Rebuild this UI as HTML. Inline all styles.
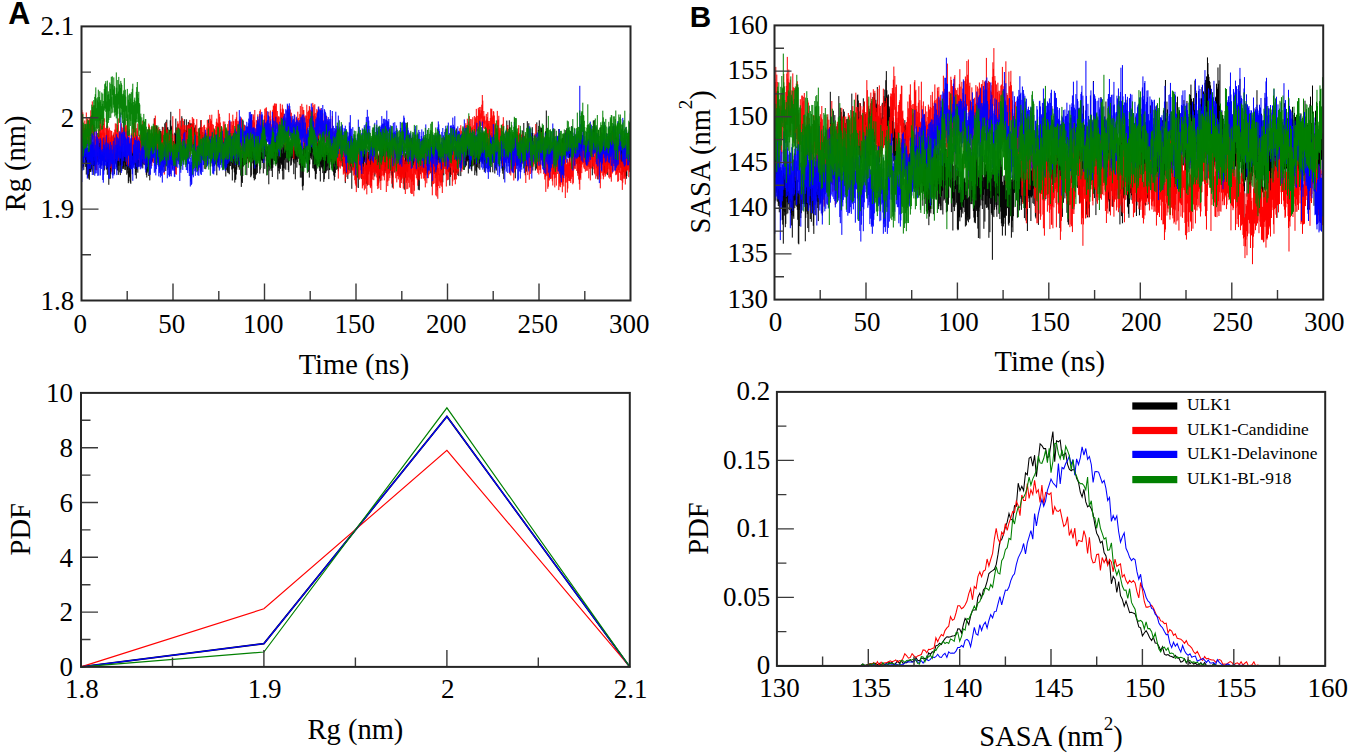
<!DOCTYPE html>
<html><head><meta charset="utf-8"><style>
html,body{margin:0;padding:0;background:#fff;width:1350px;height:754px;overflow:hidden;font-family:"Liberation Serif",serif;}
svg{display:block;}
</style></head><body>
<svg width="1350" height="754" viewBox="0 0 1350 754">
<rect width="1350" height="754" fill="#fff"/>
<g font-family="Liberation Serif" font-size="27" fill="#000">
<svg x="0" y="0" width="1350" height="754" overflow="hidden"><clipPath id="cTA"><rect x="81.5" y="26.4" width="549" height="274.1"/></clipPath><g clip-path="url(#cTA)">
<path transform="translate(81.8,0) scale(0.50000,0.1)" d="M0 1387v170m1 -175v298m1 -221v102m1 -88v194m1 -151v183m1 -262v138m1 -167v162m1 -165v264m1 -251v180m1 -115v263m1 -210v159m1 -163v140m1 -194v297m1 -242v222m1 -244v275m1 -321v333m1 -213v113m1 -205v226m1 -325v324m1 -384v361m1 -256v180m1 -169v266m1 -298v163m1 -131v208m1 -108v199m1 -330v239m1 -251v257m1 -131v166m1 -234v158m1 -152v86m1 -142v197m1 -153v118m1 -247v293m1 -214v214m1 -206v95m1 -84v162m1 -249v189m1 -75v221m1 -348v275m1 -146v199m1 -196v189m1 -261v191m1 -204v233m1 -193v245m1 -222v213m1 -174v227m1 -280v123m1 -152v225m1 -116v96m1 -166v262m1 -438v433m1 -139v196m1 -405v338m1 -151v141m1 -298v475m1 -421v187m1 -160v147m1 -152v338m1 -349v303m1 -385v262m1 -190v280m1 -244v177m1 -208v117m1 -205v227m1 -111v170m1 -240v352m1 -322v210m1 -134v140m1 -207v176m1 -143v212m1 -144v138m1 -299v330m1 -231v238m1 -192v234m1 -271v180m1 -230v191m1 -284v389m1 -343v370m1 -355v257m1 -226v225m1 -216v275m1 -258v191m1 -183v228m1 -167v167m1 -153v135m1 -159v114m1 -168v239m1 -240v244m1 -233v193m1 -150v152m1 -113v197m1 -200v152m1 -142v176m1 -92v191m1 -124v104m1 -274v236m1 -234v222m1 -259v323m1 -258v270m1 -440v250m1 -234v271m1 -305v251m1 -242v250m1 -225v238m1 -282v254m1 -139v163m1 -141v105m1 -249v389m1 -395v366m1 -244v307m1 -349v264m1 -214v181m1 -128v187m1 -322v262m1 -262v222m1 -216v145m1 -209v241m1 -204v279m1 -204v174m1 -258v247m1 -170v215m1 -260v219m1 -262v320m1 -245v206m1 -211v141m1 -172v128m1 -184v302m1 -225v231m1 -233v225m1 -136v238m1 -366v392m1 -284v235m1 -245v226m1 -318v314m1 -185v242m1 -253v144m1 -283v436m1 -331v117m1 -143v188m1 -339v201m1 -155v165m1 -128v239m1 -278v268m1 -324v274m1 -269v154m1 -261v244m1 -143v221m1 -220v208m1 -189v321m1 -371v331m1 -320v254m1 -89v164m1 -255v245m1 -214v252m1 -183v170m1 -276v166m1 -207v249m1 -227v220m1 -223v186m1 -161v132m1 -119v247m1 -327v358m1 -272v210m1 -197v230m1 -203v273m1 -267v136m1 -303v286m1 -140v83m1 -244v492m1 -416v363m1 -460v330m1 -246v231m1 -241v242m1 -154v177m1 -184v107m1 -159v276m1 -222v170m1 -321v300m1 -385v348m1 -193v202m1 -217v219m1 -42v149m1 -248v247m1 -173v115m1 -54v116m1 -169v136m1 -227v244m1 -232v191m1 -344v511m1 -421v235m1 -188v102m1 -112v217m1 -288v165m1 -96v216m1 -172v251m1 -309v225m1 -245v130m1 -118v380m1 -294v97m1 -134v223m1 -399v324m1 -142v244m1 -261v176m1 -210v139m1 -114v166m1 -292v379m1 -274v174m1 -163v183m1 -191v186m1 -293v178m1 -62v141m1 -85v209m1 -242v147m1 -260v323m1 -307v245m1 -195v217m1 -273v358m1 -339v261m1 -275v258m1 -257v271m1 -250v160m1 -174v225m1 -230v244m1 -263v243m1 -231v400m1 -355v291m1 -278v305m1 -339v313m1 -199v200m1 -253v170m1 -129v252m1 -192v159m1 -215v208m1 -123v111m1 -191v189m1 -218v222m1 -283v306m1 -300v269m1 -348v310m1 -234v429m1 -325v144m1 -176v204m1 -234v274m1 -223v213m1 -205v211m1 -259v288m1 -234v208m1 -221v157m1 -20v183m1 -250v133m1 -132v59m1 -161v174m1 -174v196m1 -343v291m1 -152v184m1 -179v107m1 -27v148m1 -160v124m1 -122v97m1 -161v260m1 -161v144m1 -144v223m1 -208v88m1 -177v246m1 -284v320m1 -270v280m1 -302v258m1 -200v228m1 -233v184m1 -117v79m1 -119v314m1 -289v160m1 -189v192m1 -167v192m1 -415v371m1 -306v206m1 -126v181m1 -226v220m1 -266v302m1 -166v117m1 -261v193m1 -117v240m1 -239v257m1 -279v283m1 -256v204m1 -119v210m1 -149v155m1 -344v376m1 -218v285m1 -226v131m1 -192v221m1 -258v273m1 -231v245m1 -288v292m1 -368v282m1 -300v397m1 -274v193m1 -181v179m1 -268v206m1 -120v156m1 -192v253m1 -233v343m1 -370v254m1 -338v332m1 -248v103m1 0v186m1 -189v291m1 -154v127m1 -213v209m1 -215v165m1 -234v186m1 -193v126m1 -123v133m1 -124v157m1 -354v232m1 -203v350m1 -242v117m1 -100v160m1 -162v285m1 -246v359m1 -338v286m1 -413v426m1 -276v206m1 -355v260m1 -269v172m1 -178v195m1 -334v396m1 -233v112m1 -221v334m1 -245v243m1 -229v344m1 -391v227m1 -182v175m1 -216v247m1 -282v279m1 -234v246m1 -218v130m1 -85v135m1 -209v398m1 -318v302m1 -405v250m1 -189v177m1 -72v117m1 -89v199m1 -333v370m1 -227v250m1 -201v135m1 -240v294m1 -229v189m1 -234v225m1 -269v197m1 -245v305m1 -288v171m1 -224v215m1 -185v174m1 -118v119m1 -86v227m1 -418v377m1 -228v213m1 -271v197m1 -267v256m1 -65v100m1 -155v133m1 -339v465m1 -369v239m1 -201v97m1 -181v370m1 -225v103m1 -202v190m1 -165v218m1 -115v261m1 -286v203m1 -213v258m1 -166v113m1 -196v376m1 -423v245m1 -142v184m1 -385v326m1 -241v225m1 -86v162m1 -244v218m1 -235v323m1 -445v353m1 -374v254m1 -184v227m1 -173v181m1 -278v212m1 -135v236m1 -280v269m1 -245v248m1 -170v179m1 -213v196m1 -197v363m1 -366v252m1 -95v126m1 -240v265m1 -171v112m1 -171v183m1 -335v276m1 -135v143m1 -184v195m1 -115v177m1 -243v327m1 -362v250m1 -198v309m1 -343v147m1 -230v318m1 -213v109m1 -166v282m1 -368v192m1 -154v257m1 -241v162m1 -183v263m1 -323v397m1 -245v267m1 -305v152m1 -146v156m1 -165v158m1 -142v227m1 -187v178m1 -281v239m1 -230v205m1 -266v223m1 -76v163m1 -152v269m1 -407v257m1 -94v138m1 -149v306m1 -328v138m1 -189v180m1 -326v409m1 -241v185m1 -271v168m1 -239v309m1 -212v185m1 -112v204m1 -212v130m1 -96v301m1 -339v244m1 -189v285m1 -348v220m1 -111v327m1 -314v352m1 -446v400m1 -375v113m1 -221v303m1 -327v228m1 -326v341m1 -184v208m1 -322v278m1 -142v179m1 -122v190m1 -406v445m1 -198v200m1 -169v152m1 -250v324m1 -313v181m1 -210v129m1 -194v211m1 -228v243m1 -252v223m1 -152v111m1 -52v210m1 -255v212m1 -341v386m1 -199v209m1 -214v231m1 -192v268m1 -318v324m1 -213v158m1 -216v109m1 -252v275m1 -388v333m1 -292v334m1 -243v156m1 -143v264m1 -239v273m1 -307v412m1 -346v175m1 -137v162m1 -197v204m1 -245v256m1 -220v264m1 -263v196m1 -179v334m1 -285v258m1 -350v288m1 -186v188m1 -282v279m1 -309v294m1 -204v162m1 -199v232m1 -205v158m1 -179v148m1 -175v339m1 -288v198m1 -264v262m1 -219v91m1 -134v170m1 -232v271m1 -193v228m1 -216v234m1 -319v267m1 -137v210m1 -292v327m1 -89v139m1 -220v185m1 -248v207m1 -215v135m1 -170v219m1 -94v74m1 -98v112m1 -227v164m1 -83v167m1 -210v176m1 -285v215m1 -316v226m1 -165v213m1 -170v228m1 -284v284m1 -319v247m1 -217v331m1 -294v208m1 -98v131m1 -57v156m1 -176v124m1 -259v306m1 -139v262m1 -194v134m1 -156v119m1 -165v131m1 -129v144m1 -264v338m1 -339v140m1 -116v165m1 -311v232m1 -235v302m1 -206v244m1 -316v379m1 -198v127m1 -72v303m1 -453v260m1 -254v228m1 -283v277m1 -214v192m1 -224v233m1 -50v143m1 -223v229m1 -313v357m1 -301v124m1 -42v300m1 -284v56m1 -103v233m1 -269v373m1 -450v231m1 -139v125m1 -234v237m1 -228v126m1 -161v195m1 -172v381m1 -274v219m1 -228v199m1 -197v138m1 -153v248m1 -262v232m1 -211v120m1 -135v121m1 -209v288m1 -165v187m1 -207v336m1 -263v231m1 -248v298m1 -393v268m1 -211v222m1 -176v153m1 -178v143m1 -275v234m1 -172v219m1 -233v300m1 -217v280m1 -379v194m1 -171v198m1 -177v244m1 -337v300m1 -236v216m1 -150v157m1 -221v307m1 -266v211m1 -235v241m1 -243v255m1 -231v203m1 -158v83m1 -88v215m1 -198v255m1 -120v137m1 -426v385m1 -211v146m1 -210v299m1 -318v198m1 -248v256m1 -205v89m1 -147v186m1 -198v227m1 -258v213m1 -158v203m1 -276v377m1 -229v186m1 -204v169m1 -356v399m1 -335v248m1 -199v195m1 -221v267m1 -247v267m1 -175v119m1 -196v195m1 -205v249m1 -122v178m1 -231v163m1 -192v234m1 -165v213m1 -156v135m1 -223v365m1 -375v275m1 -319v236m1 -219v95m1 -93v131m1 -155v273m1 -270v194m1 -139v129m1 -108v155m1 -340v320m1 -264v228m1 -159v151m1 -204v303m1 -230v251m1 -182v135m1 -145v135m1 -174v258m1 -142v107m1 -222v286m1 -291v243m1 -165v48m1 -87v198m1 -164v256m1 -369v237m1 -78v271m1 -298v164m1 -231v240m1 -193v203m1 -270v201m1 -184v155m1 -461v501m1 -240v229m1 -265v224m1 -223v151m1 -253v227m1 -217v283m1 -165v170m1 -290v206m1 -179v230m1 -138v106m1 -209v257m1 -120v150m1 -166v167m1 -236v207m1 -261v240m1 -184v202m1 -134v138m1 -193v218m1 -207v196m1 -119v107m1 -54v130m1 -163v145m1 -153v360m1 -342v304m1 -188v231m1 -420v220m1 -220v257m1 -214v126m1 -152v179m1 -244v280m1 -320v248m1 -220v295m1 -337v230m1 -239v259m1 -219v335m1 -224v114m1 -69v142m1 -201v245m1 -323v189m1 -240v350m1 -202v211m1 -198v122m1 -274v203m1 -141v219m1 -212v143m1 -138v165m1 -269v228m1 -170v314m1 -209v109m1 -86v321m1 -462v289m1 -286v312m1 -220v188m1 -231v219m1 -209v273m1 -359v336m1 -263v249m1 -291v163m1 -29v214m1 -274v233m1 -246v230m1 -302v200m1 -212v161m1 -260v342m1 -252v244m1 -277v178m1 -69v193m1 -175v239m1 -234v226m1 -179v97m1 -136v182m1 -150v305m1 -340v167m1 -204v307m1 -365v220m1 -236v183m1 -262v292m1 -78v164m1 -317v343m1 -213v180m1 -143v173m1 -190v211m1 -216v215m1 -212v222m1 -215v209m1 -52v191m1 -324v236m1 -293v264m1 -292v205m1 -243v253m1 -256v219m1 -173v207m1 -157v224m1 -258v132m1 -140v210m1 -93v213m1 -147v114m1 -306v243m1 -411v447m1 -285v277m1 -217v97m1 -40v188m1 -283v144m1 -97v246m1 -301v180m1 -215v172m1 -35v94m1 -211v316m1 -253v135m1 -243v235m1 -243v178m1 -130v89m1 -83v251m1 -243v152m1 -165v258m1 -399v337m1 -259v295m1 -187v169m1 -202v202m1 -324v274m1 -150v160m1 -166v150m1 -98v234m1 -225v91m1 -44v123m1 -189v126m1 -177v225m1 -171v167m1 -200v235m1 -201v217m1 -238v179m1 -210v220m1 -218v120m1 -127v218m1 -216v206m1 -220v326m1 -316v191m1 -255v335m1 -254v273m1 -260v291m1 -349v265m1 -333v265m1 -196v191m1 -219v303m1 -234v187m1 -225v286m1 -220v125m1 -235v199m1 -51v95m1 -255v269m1 -216v229m1 -265v250m1 -178v163m1 -283v232m1 -214v376m1 -380v276m1 -310v263m1 -209v322m1 -388v342m1 -138v129m1 -211v127m1 -302v330m1 -174v295m1 -244v184m1 -161v163m1 -303v315m1 -154v232m1 -316v152m1 -146v171m1 -255v264m1 -241v249m1 -134v256m1 -382v251m1 -142v179m1 -216v123m1 -35v234m1 -329v186m1 -158v251m1 -220v241m1 -248v198m1 -307v184m1 -198v134m1 -182v268m1 -225v153m1 -56v48m1 -46v169m1 -243v235m1 -144v82m1 -55v164m1 -224v218m1 -193v269m1 -246v276m1 -290v215m1 -126v256m1 -255v165m1 -134v118m1 -235v163m1 -236v164m1 -123v123m1 -336v388m1 -213v205m1 -238v122m1 -102v263m1 -317v235m1 -346v346m1 -276v359m1 -155v88m1 -151v155m1 -93v134m1 -194v235m1 -311v382m1 -298v139m1 -88v173m1 -231v245m1 -232v213m1 -247v290m1 -219v316m1 -474v288m1 -116v174m1 -258v196m1 -78v128m1 -305v309m1 -225v189m1 -262v223m1 -170v147m1 -217v249m1 -39v126m1 -319v166m1 -108v219m1 -222v230m1 -330v304m1 -209v180m1 -216v204m1 -337v230m1 -93v180m1 -147v157m1 -159v355m1 -263v227m1 -297v296m1 -324v164m1 -344v452m1 -314v151m1 -198v264m1 -335v351m1 -294v274m1 -61v178m1 -309v195m1 -206v317m1 -228v231m1 -219v207m1 -396v217m1 -159v376m1 -255v152m1 -191v197m1 -257v258m1 -252v144m1 -112v315m1 -298v234m1 -194v235m1 -458v464m1 -294v179m1 -174v244m1 -342v209m1 -251v309m1 -365v374m1 -226v312m1 -389v275m1 -241v124m1 -151v243m1 -248v290m1 -144v226m1 -247v208m1 -126v159m1 -250v206m1 -188v193m1 -176v236m1 -340v302m1 -315v452m1 -657v511m1 -181v122m1 -271v366m1 -257v272m1 -143v145m1 -272v302m1 -296v268m1 -218v168m1 -265v292m1 -86v150m1 -171v80m1 -178v152m1 -125v156m1 -205v169m1 -305v165m1 -57v305m1 -314v119m1 -212v288m1 -145v230m1 -223v160m1 -159v176m1 -209v181m1 -153v214m1 -213v254m1 -294v152m1 -260v298m1 -225v351m1 -385v278m1 -180v194m1 -193v184m1 -157v151m1 -208v302m1 -322v133m1 -131v270m1 -307v231m1 -187v232m1 -204v158m1 -240v231m1 -175v144m1 -232v205m1 -183v226m1 -267v283m1 -238v171m1 -138v189m1 -216v205m1 -181v183m1 -150v270m1 -209v168m1 -307v253m1 -251v189m1 -120v270m1 -393v264m1 -171v179m1 -200v202m1 -166v179m1 -181v316m1 -306v114m1 -68v225m1 -232v162m1 -172v215m1 -250v232m1 -90v125m1 -148v144m1 -201v299m1 -368v288m1 -233v320m1 -239v302m1 -389v298m1 -369v427m1 -420v301m1 -275v116m1 -264v357m1 -134v74m1 -171v250m1 -344v369m1 -318v230m1 -135v150m1 -112v137m1 -130v196m1 -239v191m1 -199v110m1 -125v265m1 -227v215m1 -241v270m1 -274v215m1 -89v111m1 -243v143m1 -181v232m1 -195v163m1 -130v173m1 -192v165m1 -160v125m1 -80v305m1 -298v70m1 -320v262m1 -168v233m1 -329v323m1 -275v199m1 -96v155m1 -180v230m1 -227v271m1 -196v169m1 -227v252m1 -212v405m1 -495v309m1 -164v197m1 -221v215m1 -221v160m1 -302v309m1 -145v183m1 -166v200m1 -329v255m1 -233v296m1 -226v182m1 -142v91m1 -72v227m1 -275v296m1 -281v288m1 -261v124m1 -175v229m1 -208v176m1 -285v293m1 -203v331m1 -344v283m1 -324v160m1 -147v202m1 -248v315m1 -384v300m1 -234v269m1 -210v257m1 -286v114m1 -167v186m1 -69v279m1 -433v361m1 -307v162m1 -230v182m1 -90v244m1 -237v185m1 -296v370m1 -295v260m1 -212v275m1 -175v134m1 -218v130m1 -83v184m1 -185v102m1 -90v259m1 -271v210m1 -177v182m1 -284v252m1 -168v233m1 -279v283m1 -202v164m1 -123v223m1 -315v196m1 -120v122m1 -247v344m1 -360v331m1 -356v272m1 -232v388m1 -282v139m1 -93v258m1 -288v260m1 -382v246m1 -235v229m1 -258v233m1 -278v170m1 -263v245m1 -128v217m1 -273v253" stroke="#000000" stroke-width="1.000" fill="none" vector-effect="non-scaling-stroke"/>
<path transform="translate(81.8,0) scale(0.50000,0.1)" d="M0 1099v257m1 -188v204m1 -249v320m1 -195v116m1 -87v217m1 -215v205m1 -279v217m1 -139v255m1 -274v135m1 -274v117m1 0v207m1 -194v207m1 -292v207m1 -170v177m1 -179v232m1 -260v242m1 -218v290m1 -288v156m1 -256v217m1 -164v271m1 -240v204m1 -377v383m1 -298v271m1 -128v111m1 -43v186m1 -245v228m1 -209v224m1 -101v170m1 -200v49m1 -106v397m1 -339v338m1 -321v143m1 -171v170m1 -230v300m1 -241v120m1 -220v156m1 -229v251m1 -248v233m1 -268v294m1 -182v285m1 -218v186m1 -276v309m1 -345v154m1 -97v254m1 -273v321m1 -376v349m1 -206v194m1 -242v320m1 -226v212m1 -231v111m1 -178v326m1 -391v250m1 -209v328m1 -283v65m1 -79v301m1 -317v188m1 -65v217m1 -314v219m1 -148v306m1 -372v152m1 -150v414m1 -369v186m1 -171v202m1 -144v170m1 -274v194m1 -151v271m1 -342v187m1 -249v307m1 -244v233m1 -294v271m1 -173v109m1 -161v198m1 -230v221m1 -287v327m1 -104v201m1 -271v171m1 -199v210m1 -186v172m1 -185v174m1 -261v202m1 -167v199m1 -168v217m1 -235v300m1 -311v182m1 -236v197m1 -163v161m1 -225v357m1 -296v222m1 -194v231m1 -252v313m1 -261v342m1 -463v259m1 -180v264m1 -218v348m1 -272v170m1 -262v242m1 -121v135m1 -106v120m1 -137v182m1 -275v274m1 -260v175m1 -142v133m1 -291v311m1 -275v206m1 -122v212m1 -327v393m1 -249v137m1 -318v327m1 -231v337m1 -275v165m1 -233v258m1 -233v231m1 -302v313m1 -175v228m1 -180v103m1 -148v167m1 -76v196m1 -328v227m1 -85v109m1 -313v331m1 -360v235m1 -77v92m1 -286v385m1 -317v261m1 -120v210m1 -351v262m1 -176v274m1 -260v244m1 -326v304m1 -242v203m1 -212v215m1 -244v94m1 -117v155m1 -151v176m1 -239v337m1 -320v221m1 -86v140m1 -98v195m1 -291v192m1 -255v240m1 -133v282m1 -299v137m1 -87v177m1 -322v364m1 -364v208m1 -285v286m1 -165v206m1 -360v251m1 -153v190m1 -63v150m1 -168v182m1 -260v260m1 -260v285m1 -244v162m1 -217v239m1 -119v267m1 -235v191m1 -151v154m1 -171v200m1 -234v88m1 -187v227m1 -142v236m1 -336v204m1 -231v304m1 -165v236m1 -226v326m1 -397v231m1 -169v165m1 -189v194m1 -355v266m1 -84v174m1 -287v277m1 -143v176m1 -222v233m1 -293v237m1 -213v296m1 -221v338m1 -319v167m1 -266v300m1 -300v313m1 -294v280m1 -247v294m1 -526v361m1 -100v102m1 -10v135m1 -298v314m1 -191v260m1 -272v279m1 -188v90m1 -205v308m1 -471v360m1 -291v257m1 -389v295m1 -273v154m1 -101v246m1 -251v233m1 -427v387m1 -270v210m1 -160v181m1 -166v263m1 -174v108m1 -285v256m1 -191v205m1 -243v391m1 -228v196m1 -320v239m1 -155v134m1 -159v279m1 -334v241m1 -44v108m1 -236v189m1 -260v287m1 -287v176m1 -168v196m1 -218v205m1 -185v253m1 -311v294m1 -226v281m1 -298v243m1 -245v171m1 -182v265m1 -331v250m1 -151v211m1 -295v207m1 -204v252m1 -89v72m1 -74v121m1 -184v339m1 -379v459m1 -366v128m1 -277v367m1 -240v327m1 -276v248m1 -333v309m1 -201v312m1 -345v140m1 -139v183m1 -253v148m1 -171v278m1 -345v290m1 -107v111m1 -223v294m1 -172v148m1 -195v112m1 -202v258m1 -266v438m1 -416v204m1 -112v167m1 -205v122m1 -89v141m1 -222v280m1 -356v402m1 -312v208m1 -173v216m1 -311v251m1 -216v171m1 -287v314m1 -275v359m1 -334v223m1 -231v278m1 -336v249m1 -155v223m1 -155v136m1 -198v293m1 -261v314m1 -267v280m1 -305v263m1 -262v266m1 -308v135m1 -177v396m1 -428v282m1 -237v182m1 -188v301m1 -427v371m1 -224v197m1 -306v286m1 -254v339m1 -283v241m1 -128v244m1 -320v282m1 -255v220m1 -203v189m1 -157v225m1 -349v154m1 -75v124m1 -171v200m1 -231v256m1 -193v311m1 -226v135m1 -187v248m1 -269v109m1 -81v272m1 -349v280m1 -159v104m1 -255v183m1 -262v254m1 -143v288m1 -316v269m1 -194v191m1 -266v231m1 -135v191m1 -250v206m1 -311v377m1 -309v259m1 -265v260m1 -159v203m1 -214v218m1 -326v372m1 -359v249m1 -280v339m1 -395v417m1 -238v221m1 -309v276m1 -247v213m1 -236v159m1 -167v323m1 -336v290m1 -191v192m1 -293v195m1 -211v418m1 -405v334m1 -107v149m1 -202v218m1 -370v249m1 -177v171m1 -207v270m1 -205v278m1 -232v245m1 -251v196m1 -161v204m1 -264v219m1 -227v160m1 -218v282m1 -210v276m1 -287v312m1 -308v171m1 -247v163m1 -238v212m1 -163v124m1 -113v108m1 -200v209m1 -146v186m1 -189v205m1 -263v258m1 -236v239m1 -182v80m1 -203v323m1 -122v127m1 -147v147m1 -227v271m1 -230v155m1 -189v159m1 -224v233m1 -142v182m1 -227v223m1 -254v345m1 -392v251m1 -268v315m1 -172v263m1 -232v95m1 -202v168m1 -93v79m1 -92v92m1 -87v166m1 -195v219m1 -262v286m1 -355v359m1 -221v120m1 -263v292m1 -301v263m1 -225v202m1 -92v67m1 -59v186m1 -157v113m1 -252v300m1 -181v178m1 -250v250m1 -311v246m1 -159v347m1 -260v122m1 -158v178m1 -265v244m1 -302v284m1 -326v220m1 -215v268m1 -287v222m1 -232v282m1 -252v266m1 -290v192m1 -193v206m1 -76v122m1 -179v336m1 -267v101m1 -113v213m1 -219v338m1 -255v226m1 -298v303m1 -438v306m1 -255v355m1 -320v147m1 -140v102m1 -186v243m1 -206v265m1 -255v279m1 -83v144m1 -297v227m1 0v89m1 -246v286m1 -318v218m1 -189v235m1 -260v212m1 -295v226m1 -132v121m1 -250v158m1 -89v204m1 -113v117m1 -215v271m1 -298v200m1 -60v96m1 -204v245m1 -197v128m1 -60v111m1 -82v146m1 -177v172m1 -153v330m1 -363v244m1 -322v284m1 -191v215m1 -235v167m1 -210v287m1 -221v262m1 -318v284m1 -356v266m1 -204v223m1 -122v143m1 -212v154m1 -224v276m1 -358v320m1 -232v293m1 -261v184m1 -325v323m1 -183v206m1 -315v327m1 -295v383m1 -383v278m1 -98v153m1 -272v185m1 -118v233m1 -308v182m1 -177v224m1 -336v340m1 -197v157m1 -227v155m1 -170v164m1 -158v117m1 -168v232m1 -223v195m1 -167v142m1 -111v298m1 -317v155m1 -140v169m1 -194v190m1 -260v307m1 -181v157m1 -259v231m1 -148v236m1 -330v289m1 -168v208m1 -242v205m1 -137v218m1 -324v370m1 -356v327m1 -269v185m1 -246v265m1 -302v322m1 -210v144m1 -93v127m1 -270v262m1 -120v213m1 -282v193m1 -168v280m1 -248v135m1 -217v265m1 -103v195m1 -288v251m1 -206v278m1 -285v179m1 -193v197m1 -221v206m1 -165v190m1 -270v247m1 -166v217m1 -252v183m1 -163v298m1 -232v147m1 -225v235m1 -130v129m1 -234v253m1 -174v249m1 -152v187m1 -227v237m1 -431v473m1 -356v322m1 -121v139m1 -299v232m1 -239v279m1 -211v230m1 -238v196m1 -261v279m1 -299v314m1 -249v289m1 -230v217m1 -311v347m1 -235v359m1 -442v270m1 -225v178m1 -165v267m1 -210v227m1 -283v194m1 -172v234m1 -216v182m1 -241v205m1 -212v186m1 -90v273m1 -324v305m1 -206v168m1 -173v221m1 -174v252m1 -312v268m1 -350v290m1 -139v87m1 -135v220m1 -230v238m1 -279v219m1 -280v328m1 -164v134m1 -245v265m1 -306v166m1 -216v231m1 -114v164m1 -124v134m1 -97v139m1 -125v112m1 -261v322m1 -298v241m1 -185v202m1 -129v216m1 -277v312m1 -244v263m1 -314v379m1 -337v130m1 -249v292m1 -251v190m1 -207v173m1 -177v301m1 -258v268m1 -255v88m1 -61v134m1 -140v216m1 -343v233m1 -209v328m1 -154v251m1 -243v222m1 -109v97m1 -185v126m1 -121v232m1 -268v203m1 -241v290m1 -443v351m1 -147v164m1 -156v288m1 -422v310m1 -221v240m1 -252v249m1 -257v153m1 -168v137m1 -178v318m1 -206v227m1 -204v212m1 -278v258m1 -314v382m1 -365v231m1 -230v187m1 -309v276m1 -200v282m1 -233v162m1 -253v227m1 -232v273m1 -237v201m1 -186v210m1 -354v395m1 -298v383m1 -203v234m1 -268v223m1 -197v233m1 -349v192m1 -166v200m1 -146v185m1 -232v334m1 -368v229m1 -99v144m1 -233v138m1 -121v166m1 -193v186m1 -185v201m1 -280v319m1 -347v237m1 -248v95m1 -55v245m1 -234v423m1 -392v209m1 -179v258m1 -203v248m1 -253v135m1 -194v258m1 -241v164m1 -145v196m1 -265v138m1 -232v201m1 -127v216m1 -253v378m1 -376v209m1 -237v282m1 -290v462m1 -391v231m1 -138v44m1 -146v219m1 -289v256m1 -291v401m1 -254v111m1 -139v323m1 -319v256m1 -162v140m1 -136v191m1 -192v156m1 -182v198m1 -148v248m1 -381v387m1 -262v190m1 -190v212m1 -284v228m1 -136v148m1 -210v191m1 -198v316m1 -370v314m1 -187v133m1 -176v177m1 -133v297m1 -326v109m1 -83v188m1 -288v353m1 -295v208m1 -305v388m1 -314v199m1 -312v367m1 -377v423m1 -359v261m1 -321v340m1 -166v299m1 -307v318m1 -284v164m1 -301v420m1 -201v73m1 -163v203m1 -201v313m1 -454v399m1 -418v239m1 -229v246m1 -197v195m1 -271v310m1 -198v128m1 -79v165m1 -224v282m1 -349v286m1 -278v183m1 -158v263m1 -275v229m1 -232v146m1 -130v201m1 -285v329m1 -389v264m1 -150v216m1 -265v223m1 -182v283m1 -241v186m1 -192v241m1 -225v250m1 -274v342m1 -367v158m1 -130v137m1 -138v299m1 -331v243m1 -129v104m1 -136v198m1 -225v197m1 -298v173m1 -83v196m1 -181v113m1 -151v193m1 -256v251m1 -76v170m1 -142v290m1 -369v257m1 -214v214m1 -319v177m1 -178v175m1 -213v351m1 -282v230m1 -192v364m1 -252v167m1 -265v361m1 -335v273m1 -301v386m1 -308v180m1 -232v122m1 -130v194m1 -78v146m1 -259v204m1 -295v324m1 -145v113m1 -128v171m1 -359v422m1 -488v193m1 -259v357m1 -208v120m1 -229v273m1 -262v211m1 -101v153m1 -149v201m1 -241v364m1 -488v377m1 -332v381m1 -411v314m1 -172v264m1 -325v216m1 -135v87m1 -153v237m1 -222v174m1 -273v236m1 -171v281m1 -223v139m1 -142v335m1 -247v202m1 -419v304m1 -226v223m1 -149v252m1 -320v263m1 -242v343m1 -284v132m1 -82v185m1 -177v91m1 -127v123m1 -131v166m1 -339v316m1 -330v278m1 -254v196m1 -325v273m1 -191v160m1 -271v242m1 -187v228m1 -122v304m1 -368v236m1 -94v201m1 -352v171m1 -245v277m1 -186v251m1 -274v276m1 -353v232m1 -257v280m1 -260v207m1 -173v154m1 -253v150m1 -82v116m1 -92v191m1 -253v125m1 -181v246m1 -167v244m1 -294v177m1 -100v268m1 -255v183m1 -271v270m1 -190v226m1 -326v475m1 -279v118m1 -232v154m1 -248v228m1 -166v187m1 -237v226m1 -211v158m1 -256v217m1 -146v157m1 -87v81m1 -153v120m1 -197v229m1 -213v272m1 -299v265m1 -234v270m1 -237v122m1 -187v126m1 -91v80m1 -137v213m1 -310v306m1 -250v343m1 -186v116m1 -169v121m1 -64v123m1 -133v86m1 -38v82m1 -22v170m1 -296v304m1 -250v195m1 -218v177m1 -225v299m1 -212v161m1 -138v255m1 -277v269m1 -220v168m1 -248v217m1 -311v278m1 -271v231m1 -235v346m1 -260v198m1 -217v234m1 -278v205m1 -199v229m1 -191v238m1 -139v152m1 -174v362m1 -316v143m1 -133v111m1 -97v161m1 -354v329m1 -232v213m1 -223v252m1 -290v331m1 -193v185m1 -203v153m1 -149v241m1 -218v130m1 -54v177m1 -307v179m1 -64v114m1 -242v421m1 -487v412m1 -257v223m1 -178v240m1 -275v248m1 -133v103m1 -108v164m1 -245v125m1 -88v204m1 -327v172m1 -202v309m1 -176v155m1 -226v191m1 -105v147m1 -61v258m1 -295v173m1 -57v192m1 -170v113m1 -187v69m1 -49v185m1 -192v71m1 -137v260m1 -309v396m1 -279v198m1 -203v104m1 -231v281m1 -251v270m1 -313v243m1 -309v334m1 -170v89m1 -249v310m1 -349v304m1 -333v370m1 -247v247m1 -210v157m1 -218v304m1 -224v178m1 -264v270m1 -225v151m1 -74v95m1 -95v176m1 -319v245m1 -122v116m1 -205v203m1 -136v173m1 -222v301m1 -339v493m1 -413v163m1 -86v157m1 -250v255m1 -266v361m1 -333v261m1 -123v139m1 -272v374m1 -328v202m1 -142v211m1 -341v251m1 -201v230m1 -193v241m1 -238v160m1 -203v103m1 -137v238m1 -223v239m1 -261v82m1 -152v289m1 -212v155m1 -327v369m1 -142v147m1 -86v109m1 -107v169m1 -290v320m1 -133v29m1 -106v226m1 -315v192m1 -136v216m1 -263v259m1 -242v277m1 -411v269m1 -156v164m1 -232v241m1 -275v279m1 -252v286m1 -125v220m1 -223v186m1 -190v281m1 -289v263m1 -161v311m1 -245v80m1 -209v188m1 -173v199m1 -171v300m1 -413v392m1 -288v218m1 -219v227m1 -214v159m1 -177v217m1 -246v247m1 -184v86m1 -107v200m1 -288v315m1 -333v375m1 -275v161m1 -128v134m1 -71v109m1 -192v281m1 -239v111m1 -140v172m1 -150v228m1 -302v138m1 -92v140m1 -265v238m1 -130v125m1 -111v304m1 -408v342m1 -296v325m1 -176v184m1 -179v155m1 -318v295m1 -399v358m1 -189v328m1 -344v268m1 -267v238m1 -206v253m1 -284v175m1 -143v104m1 -155v418m1 -437v285m1 -181v120m1 -129v186m1 -236v338m1 -331v290m1 -261v158m1 -135v162m1 -195v195m1 -233v236m1 -180v176m1 -192v214m1 -333v292m1 -152v128m1 -205v209m1 -92v166m1 -231v217m1 -298v172m1 -106v90m1 -176v150m1 -202v230m1 -309v231m1 -157v184m1 -239v311m1 -175v112m1 0v111m1 -266v190m1 -161v271m1 -155v204m1 -267v324m1 -412v295m1 -188v205m1 -238v114m1 -162v219m1 -254v168m1 -194v131m1 -154v197m1 -179v230m1 -302v317m1 -211v141m1 -126v221m1 -221v137m1 -232v308m1 -339v237m1 -101v203m1 -162v102m1 -210v229m1 -107v224m1 -258v163m1 -172v154m1 -129v262m1 -345v224m1 -266v268m1 -200v109m1 -135v175m1 -208v241m1 -189v184m1 -218v249m1 -133v171m1 -269v282m1 -299v177m1 -143v309m1 -238v133m1 -153v234m1 -296v284m1 -296v240m1 -248v345m1 -252v212m1 -291v289m1 -196v215m1 -68v181m1 -330v239m1 -351v241m1 -128v177m1 -225v140m1 -19v129m1 -274v311m1 -262v240m1 -266v154m1 -87v175m1 -267v285m1 -197v170m1 -200v202m1 -308v296m1 -226v220m1 -268v228m1 -201v171m1 -178v301m1 -319v239m1 -250v342m1 -304v287m1 -278v280m1 -165v210m1 -329v171m1 -155v231m1 -411v301m1 -190v226m1 -226v279m1 -343v288m1 -192v167m1 -120v163m1 -211v286m1 -246v235m1 -263v269m1 -310v289m1 -237v330m1 -295v287m1 -290v119m1 -198v282m1 -261v266m1 -13v84m1 -257v191m1 -119v192m1 -181v124m1 -218v367m1 -242v170m1 -380v256m1 -261v345m1 -247v247m1 -223v199m1 -211v293m1 -437v291m1 -242v259m1 -300v279m1 -231v236m1 -240v246m1 -184v175m1 -242v317m1 -353v302m1 -247v192m1 -242v288" stroke="#ff0000" stroke-width="1.000" fill="none" vector-effect="non-scaling-stroke"/>
<path transform="translate(81.8,0) scale(0.50000,0.1)" d="M0 1389v431m1 -429v207m1 -108v216m1 -342v199m1 -168v251m1 -234v165m1 -152v208m1 -189v131m1 -180v141m1 -146v177m1 -122v155m1 -102v288m1 -387v228m1 -142v260m1 -238v182m1 -251v161m1 -174v265m1 -323v320m1 -221v138m1 -171v214m1 -309v308m1 -319v423m1 -293v156m1 -261v302m1 -229v146m1 -86v122m1 -332v483m1 -311v289m1 -231v148m1 -341v332m1 -251v340m1 -365v195m1 -153v349m1 -295v187m1 -264v368m1 -265v150m1 -170v210m1 -297v372m1 -351v250m1 -156v192m1 -172v130m1 -131v94m1 -121v310m1 -356v383m1 -451v371m1 -301v205m1 -180v184m1 -162v164m1 -233v150m1 -222v334m1 -206v176m1 -181v148m1 -196v248m1 -228v254m1 -263v343m1 -285v295m1 -258v134m1 -248v203m1 -140v184m1 -163v140m1 -195v187m1 -100v217m1 -257v289m1 -374v280m1 -224v289m1 -164v95m1 -307v272m1 -204v143m1 -67v169m1 -349v283m1 -177v302m1 -379v226m1 -153v165m1 -226v169m1 -146v171m1 -261v300m1 -160v121m1 -114v124m1 -463v453m1 -244v395m1 -386v175m1 -197v340m1 -226v176m1 -266v215m1 -357v410m1 -299v254m1 -246v249m1 -205v206m1 -192v237m1 -229v197m1 -138v133m1 -270v356m1 -282v178m1 -187v182m1 -187v174m1 -102v235m1 -245v194m1 -243v309m1 -171v130m1 -301v340m1 -132v133m1 -134v186m1 -145v210m1 -364v224m1 -216v228m1 -299v242m1 -139v206m1 -290v232m1 -231v153m1 -87v204m1 -307v241m1 -195v282m1 -277v181m1 -201v191m1 -94v180m1 -262v122m1 -100v235m1 -119v145m1 -189v156m1 -156v157m1 -186v209m1 -305v164m1 -78v160m1 -252v215m1 -255v309m1 -223v188m1 -120v139m1 -263v333m1 -303v332m1 -328v290m1 -359v127m1 -64v244m1 -315v349m1 -151v179m1 -293v160m1 -85v269m1 -312v190m1 -178v300m1 -264v156m1 -224v270m1 -226v168m1 -230v196m1 -195v163m1 -144v162m1 -205v189m1 -37v202m1 -387v317m1 -260v318m1 -247v284m1 -308v245m1 -194v88m1 -90v134m1 -123v145m1 -180v196m1 -193v290m1 -404v371m1 -319v303m1 -330v389m1 -185v161m1 -197v206m1 -256v202m1 -218v339m1 -260v139m1 -193v215m1 -211v155m1 -192v240m1 -250v178m1 -242v186m1 -170v222m1 -196v218m1 -180v157m1 -94v235m1 -211v127m1 -270v252m1 -126v197m1 -155v171m1 -266v258m1 -328v309m1 -293v196m1 -197v317m1 -249v135m1 -94v149m1 -138v120m1 -190v210m1 -191v132m1 -153v271m1 -195v200m1 -267v140m1 -178v197m1 -136v142m1 -334v275m1 -169v124m1 -108v221m1 -182v121m1 -267v292m1 -251v251m1 -348v516m1 -405v292m1 -183v214m1 -242v75m1 -64v84m1 -104v85m1 -172v309m1 -245v156m1 -276v311m1 -240v190m1 -276v265m1 -135v154m1 -169v218m1 -143v191m1 -140v89m1 -187v242m1 -156v182m1 -201v107m1 -280v285m1 -28v147m1 -135v84m1 -134v290m1 -217v168m1 -197v232m1 -305v293m1 -330v245m1 -309v224m1 -166v270m1 -307v180m1 -191v177m1 -276v357m1 -366v411m1 -227v116m1 -150v185m1 -128v168m1 -266v193m1 -40v144m1 -201v137m1 -234v303m1 -344v254m1 -118v128m1 -185v233m1 -302v318m1 -238v246m1 -308v163m1 -212v191m1 -141v277m1 -344v275m1 -230v227m1 -286v228m1 -170v155m1 -278v307m1 -274v228m1 -161v231m1 -201v246m1 -197v183m1 -233v221m1 -142v76m1 -154v216m1 -265v212m1 -227v219m1 -184v270m1 -278v199m1 -228v273m1 -243v215m1 -285v297m1 -205v323m1 -313v312m1 -307v317m1 -247v151m1 -206v269m1 -364v265m1 -166v176m1 -245v189m1 -221v239m1 -242v231m1 -153v243m1 -185v196m1 -231v109m1 -85v238m1 -190v171m1 -312v202m1 -146v220m1 -206v183m1 -81v129m1 -367v323m1 -166v237m1 -251v101m1 -128v148m1 -81v194m1 -306v221m1 -209v317m1 -314v151m1 -176v309m1 -312v300m1 -238v89m1 -173v295m1 -265v127m1 -195v319m1 -147v133m1 -411v400m1 -206v174m1 -169v158m1 -194v128m1 -122v250m1 -264v207m1 -164v176m1 -154v141m1 -230v257m1 -262v235m1 -212v217m1 -282v365m1 -326v138m1 -148v194m1 -98v205m1 -279v275m1 -238v209m1 -338v215m1 -204v231m1 -385v552m1 -433v247m1 -302v264m1 -159v178m1 -161v129m1 -127v213m1 -304v163m1 -159v378m1 -239v151m1 -190v218m1 -205v154m1 -157v221m1 -220v228m1 -283v86m1 -75v110m1 -161v193m1 -138v187m1 -191v217m1 -254v183m1 -229v207m1 -272v339m1 -260v273m1 -355v353m1 -321v148m1 -154v220m1 -222v142m1 0v194m1 -199v167m1 -172v126m1 -128v284m1 -275v291m1 -252v366m1 -335v134m1 -199v215m1 -181v169m1 -243v264m1 -301v256m1 -299v390m1 -333v264m1 -286v157m1 -115v228m1 -332v307m1 -183v184m1 -195v133m1 -236v236m1 -266v313m1 -288v335m1 -226v274m1 -250v159m1 -136v329m1 -433v299m1 -258v111m1 -120v144m1 -104v187m1 -211v123m1 -153v204m1 -218v224m1 -311v258m1 -218v259m1 -250v417m1 -347v230m1 -177v252m1 -330v241m1 -136v188m1 -203v210m1 -241v313m1 -462v294m1 -231v256m1 -230v181m1 -125v159m1 -123v105m1 -195v209m1 -168v177m1 -258v253m1 -88v59m1 -169v188m1 -175v221m1 -162v129m1 -75v164m1 -248v257m1 -268v308m1 -345v234m1 -100v181m1 -205v131m1 -212v134m1 -205v215m1 -199v261m1 -232v149m1 -191v190m1 -207v270m1 -292v284m1 -237v223m1 -203v126m1 -240v328m1 -316v225m1 -78v149m1 -363v349m1 -338v316m1 -241v236m1 -272v180m1 -234v326m1 -298v216m1 -105v214m1 -225v203m1 -139v144m1 -96v145m1 -216v205m1 -248v271m1 -242v155m1 -140v161m1 -220v272m1 -167v223m1 -234v199m1 -220v205m1 -255v250m1 -211v263m1 -188v100m1 -182v151m1 -133v82m1 -40v166m1 -193v183m1 -215v162m1 -135v174m1 -228v213m1 -94v196m1 -323v400m1 -419v366m1 -316v182m1 -154v150m1 -229v274m1 -128v189m1 -305v152m1 -102v161m1 -92v204m1 -150v126m1 -135v283m1 -289v363m1 -418v214m1 -191v197m1 -182v165m1 -222v134m1 -201v212m1 -174v274m1 -341v178m1 -306v434m1 -314v125m1 -208v404m1 -314v253m1 -206v174m1 -159v297m1 -201v174m1 -220v155m1 -154v150m1 -234v331m1 -287v202m1 -263v135m1 -172v280m1 -296v171m1 -225v268m1 -248v270m1 -261v168m1 -57v145m1 -252v249m1 -243v176m1 -202v465m1 -441v273m1 -279v315m1 -363v304m1 -145v201m1 -181v280m1 -418v264m1 -252v331m1 -315v221m1 -207v209m1 -186v312m1 -233v215m1 -258v145m1 -124v146m1 -188v217m1 -191v296m1 -302v257m1 -157v110m1 -301v385m1 -297v258m1 -160v168m1 -171v215m1 -388v441m1 -229v164m1 -228v133m1 -32v147m1 -226v228m1 -176v112m1 -153v243m1 -417v402m1 -261v264m1 -211v135m1 -167v299m1 -319v196m1 -299v384m1 -253v191m1 -205v216m1 -150v146m1 -143v137m1 -216v272m1 -186v237m1 -325v191m1 -206v269m1 -237v274m1 -158v83m1 -156v143m1 -181v250m1 -134v172m1 -314v277m1 -241v341m1 -323v412m1 -402v277m1 -231v261m1 -307v292m1 -238v180m1 -198v271m1 -405v350m1 -313v264m1 -373v466m1 -331v119m1 -117v286m1 -214v176m1 -154v249m1 -360v356m1 -224v205m1 -170v159m1 -235v218m1 -233v287m1 -171v152m1 -235v374m1 -340v225m1 -208v114m1 -201v229m1 -225v125m1 -277v281m1 -166v172m1 -215v222m1 -140v295m1 -286v189m1 -111v218m1 -255v304m1 -373v408m1 -455v349m1 -241v229m1 -225v138m1 -206v184m1 -260v256m1 -185v220m1 -224v191m1 -267v386m1 -459v308m1 -156v87m1 -311v336m1 -177v185m1 -276v301m1 -261v314m1 -197v166m1 -230v350m1 -200v142m1 -109v146m1 -185v160m1 -160v130m1 -158v234m1 -270v179m1 -192v300m1 -349v219m1 -85v145m1 -328v339m1 -196v157m1 -183v153m1 -227v190m1 -259v204m1 -95v157m1 -189v158m1 -130v194m1 -229v234m1 -145v129m1 -233v270m1 -237v254m1 -276v202m1 -218v258m1 -349v456m1 -382v324m1 -316v245m1 -299v199m1 -151v235m1 -285v251m1 -212v188m1 -220v231m1 -87v227m1 -366v216m1 -309v218m1 -117v270m1 -254v228m1 -236v100m1 -125v368m1 -285v180m1 -76v117m1 -241v167m1 -104v167m1 -217v197m1 -140v177m1 -168v197m1 -178v314m1 -437v278m1 -179v107m1 -116v145m1 -241v412m1 -304v144m1 -166v271m1 -324v354m1 -275v80m1 -118v223m1 -145v209m1 -211v239m1 -201v178m1 -228v223m1 -176v243m1 -431v421m1 -360v306m1 -205v192m1 -262v356m1 -257v130m1 -239v219m1 -306v224m1 -282v243m1 -222v323m1 -277v322m1 -316v179m1 -143v255m1 -144v101m1 -128v140m1 -149v275m1 -338v340m1 -314v225m1 -173v238m1 -211v235m1 -290v267m1 -251v209m1 -227v285m1 -142v220m1 -252v152m1 -113v203m1 -335v265m1 -191v149m1 -171v201m1 -126v145m1 -323v258m1 -292v256m1 -157v169m1 -133v299m1 -249v140m1 -239v242m1 -222v126m1 -151v287m1 -327v158m1 -67v212m1 -282v205m1 -134v116m1 -71v226m1 -302v180m1 -246v242m1 -138v212m1 -226v188m1 -256v356m1 -142v151m1 -305v221m1 -196v200m1 -249v185m1 -293v276m1 -108v169m1 -165v242m1 -184v308m1 -344v279m1 -245v232m1 -222v82m1 -187v330m1 -284v179m1 -282v295m1 -188v175m1 -162v234m1 -205v162m1 -224v404m1 -472v182m1 -88v207m1 -288v190m1 -165v163m1 -72v197m1 -305v233m1 -78v209m1 -378v349m1 -296v119m1 -160v292m1 -377v211m1 -270v321m1 -291v251m1 -187v201m1 -84v210m1 -185v173m1 -187v91m1 -109v272m1 -371v276m1 -166v150m1 -299v252m1 -181v133m1 -85v181m1 -158v93m1 -196v347m1 -256v202m1 -354v362m1 -278v205m1 -80v71m1 -14v169m1 -282v181m1 -366v386m1 -216v278m1 -279v152m1 -217v176m1 -248v264m1 -266v318m1 -320v356m1 -271v204m1 -274v279m1 -372v325m1 -253v203m1 -183v229m1 -230v152m1 -257v276m1 -124v279m1 -214v125m1 -155v216m1 -116v150m1 -275v289m1 -349v291m1 -243v240m1 -245v286m1 -277v267m1 -156v250m1 -329v286m1 -281v354m1 -370v344m1 -258v194m1 -182v109m1 -260v200m1 -123v294m1 -292v187m1 -356v404m1 -215v276m1 -312v198m1 -265v288m1 -293v218m1 -215v161m1 -158v206m1 -92v87m1 -105v179m1 -173v143m1 -153v217m1 -187v287m1 -377v338m1 -232v196m1 -250v236m1 -209v202m1 -278v237m1 -245v204m1 -165v208m1 -170v114m1 -161v138m1 -160v277m1 -228v66m1 0v148m1 -231v295m1 -415v300m1 -135v100m1 -154v214m1 -235v228m1 -253v237m1 -166v110m1 -266v194m1 -79v296m1 -291v235m1 -163v275m1 -376v273m1 -357v278m1 0v204m1 -192v139m1 -212v250m1 -234v154m1 -252v253m1 -77v205m1 -251v236m1 -202v168m1 -257v158m1 -9v120m1 -117v146m1 -220v286m1 -272v128m1 -89v162m1 -270v230m1 -326v245m1 -219v235m1 -208v237m1 -270v214m1 -170v209m1 -253v242m1 -374v227m1 -71v197m1 -217v174m1 -123v277m1 -277v157m1 -160v225m1 -198v224m1 -234v180m1 -299v210m1 -36v254m1 -326v217m1 -91v115m1 -157v259m1 -217v177m1 -281v87m1 -98v174m1 -263v340m1 -323v243m1 -186v138m1 -150v141m1 -132v252m1 -347v317m1 -271v264m1 -128v321m1 -373v165m1 -312v324m1 -156v244m1 -269v216m1 -237v78m1 -181v406m1 -403v223m1 -226v340m1 -217v272m1 -243v254m1 -323v194m1 -101v87m1 -186v257m1 -266v317m1 -270v285m1 -339v287m1 -317v377m1 -311v195m1 -396v441m1 -291v157m1 -65v98m1 -265v332m1 -290v352m1 -316v268m1 -223v242m1 -209v361m1 -359v345m1 -377v235m1 -176v235m1 -171v135m1 -270v377m1 -370v306m1 -214v159m1 -265v295m1 -276v208m1 -210v191m1 -256v240m1 -153v246m1 -266v310m1 -195v132m1 -234v225m1 -139v80m1 -146v151m1 -154v142m1 -144v193m1 -268v288m1 -203v59m1 -257v454m1 -429v291m1 -312v230m1 -79v242m1 -370v245m1 -204v264m1 -236v429m1 -359v153m1 -173v204m1 -191v128m1 -135v211m1 -119v84m1 -122v100m1 -79v108m1 -254v321m1 -246v122m1 -135v154m1 -233v174m1 -64v143m1 -242v249m1 -95v167m1 -328v199m1 -140v99m1 -123v215m1 -151v219m1 -217v175m1 -184v155m1 -159v243m1 -182v211m1 -310v322m1 -206v131m1 -191v293m1 -353v195m1 -237v251m1 -179v336m1 -341v167m1 -138v193m1 -138v160m1 -314v200m1 -160v357m1 -321v265m1 -224v239m1 -207v298m1 -467v407m1 -236v163m1 -213v247m1 -262v73m1 -109v262m1 -407v307m1 -145v65m1 0v143m1 -147v206m1 -297v196m1 -117v178m1 -212v243m1 -240v233m1 -292v187m1 -180v215m1 -219v164m1 -30v221m1 -293v218m1 -349v402m1 -308v353m1 -222v205m1 -184v242m1 -162v207m1 -266v177m1 -197v209m1 -171v178m1 -235v227m1 -294v330m1 -344v202m1 -283v244m1 -161v123m1 -226v156m1 -133v198m1 -122v192m1 -302v178m1 -131v204m1 -297v302m1 -278v278m1 -177v134m1 -206v209m1 -192v186m1 -162v201m1 -231v240m1 -250v113m1 -179v301m1 -245v382m1 -344v172m1 -170v116m1 -36v89m1 -242v367m1 -308v223m1 -199v202m1 -216v229m1 -197v116m1 -169v244m1 -220v207m1 -261v261m1 -209v164m1 -178v198m1 -686v617m1 -233v320m1 -177v132m1 -208v298m1 -401v206m1 -63v57m1 -40v257m1 -376v249m1 -128v142m1 -148v215m1 -215v211m1 -78v91m1 -157v195m1 -304v328m1 -225v236m1 -245v164m1 -188v256m1 -162v110m1 -280v305m1 -267v165m1 -261v311m1 -351v383m1 -327v250m1 -275v206m1 -140v86m1 -95v194m1 -173v219m1 -142v168m1 -185v124m1 -90v118m1 -171v158m1 -261v244m1 -241v263m1 -159v273m1 -281v189m1 -220v245m1 -155v243m1 -317v233m1 -171v184m1 -88v326m1 -353v154m1 -165v150m1 -211v202m1 -110v204m1 -259v272m1 -201v118m1 -298v214m1 -189v181m1 -261v253m1 -308v358m1 -235v196m1 -96v178m1 -231v167m1 -216v268m1 -277v242m1 -189v164m1 -165v168m1 -57v123m1 -355v325m1 -231v271m1 -208v174m1 -261v219m1 -181v195m1 -238v327m1 -213v109m1 -116v87m1 -126v322m1 -306v182m1 -361v401m1 -335v203m1 -221v419m1 -317v320m1 -297v200m1 -141v208m1 -267v211m1 -175v211m1 -444v313m1 -131v251m1 -309v170m1 -120v126m1 -225v199m1 -164v273m1 -261v213m1 -247v202m1 -104v107m1 -140v248m1 -435v438m1 -174v161m1 -209v244m1 -147v174m1 -371v295m1 -175v239m1 -383v258m1 -53v112m1 -271v182m1 -139v227m1 -86v153m1 -193v191m1 -191v129m1 -134v155m1 -218v229m1 -238v315" stroke="#0000ff" stroke-width="1.000" fill="none" vector-effect="non-scaling-stroke"/>
<path transform="translate(81.8,0) scale(0.50000,0.1)" d="M0 1278v362m1 -489v309m1 -320v283m1 -197v338m1 -236v201m1 -231v181m1 -238v250m1 -253v245m1 -237v221m1 -180v189m1 -238v201m1 -246v176m1 -130v202m1 -232v312m1 -321v264m1 -179v231m1 -277v121m1 -193v198m1 -175v255m1 -288v183m1 -294v219m1 -197v181m1 -137v206m1 -265v300m1 -352v294m1 -243v257m1 -340v351m1 -378v266m1 -334v439m1 -231v199m1 -298v329m1 -309v286m1 -317v242m1 -317v384m1 -258v348m1 -401v240m1 -298v398m1 -296v223m1 -238v209m1 -147v130m1 -266v372m1 -259v254m1 -356v254m1 -180v244m1 -191v152m1 -325v216m1 -264v240m1 -250v256m1 -277v307m1 -254v358m1 -208v249m1 -457v476m1 -333v166m1 -202v316m1 -287v258m1 -208v120m1 -287v355m1 -291v177m1 -227v339m1 -410v318m1 -118v166m1 -371v187m1 -104v280m1 -232v153m1 -273v302m1 -215v266m1 -252v290m1 -210v166m1 -181v213m1 -429v460m1 -307v277m1 -219v387m1 -522v338m1 -223v171m1 -317v276m1 -203v388m1 -378v369m1 -342v200m1 -270v365m1 -341v256m1 -239v298m1 -206v288m1 -272v230m1 -252v333m1 -365v216m1 -339v536m1 -366v291m1 -345v353m1 -284v148m1 -52v118m1 -125v155m1 -321v465m1 -210v121m1 -268v363m1 -408v171m1 -187v420m1 -334v172m1 -256v322m1 -275v225m1 -288v221m1 -111v323m1 -467v357m1 -408v451m1 -268v355m1 -323v240m1 -295v328m1 -349v249m1 -190v191m1 -214v351m1 -445v306m1 -353v320m1 -371v316m1 -196v280m1 -241v249m1 -310v446m1 -333v266m1 -251v262m1 -146v184m1 -210v270m1 -155v185m1 -263v308m1 -239v213m1 -193v137m1 -200v259m1 -319v325m1 -246v282m1 -285v180m1 -205v397m1 -396v210m1 -134v297m1 -230v123m1 -164v190m1 -88v183m1 -282v421m1 -449v212m1 -182v246m1 -255v299m1 -254v177m1 -209v175m1 -183v171m1 -207v219m1 -151v186m1 -249v280m1 -306v265m1 -142v169m1 -273v245m1 -213v198m1 -165v142m1 -210v179m1 -140v353m1 -322v153m1 -137v100m1 -184v161m1 -79v155m1 -190v270m1 -257v197m1 -206v347m1 -249v215m1 -296v228m1 -114v176m1 -189v172m1 -154v153m1 -171v120m1 -95v156m1 -256v160m1 -177v111m1 -149v276m1 -264v178m1 -11v133m1 -277v197m1 -52v183m1 -313v230m1 -248v191m1 -77v163m1 -310v185m1 -72v109m1 -85v94m1 -215v250m1 -174v146m1 -235v217m1 -133v136m1 -32v116m1 -146v119m1 -155v203m1 -125v164m1 -222v203m1 -202v213m1 -199v128m1 -146v232m1 -218v131m1 -279v260m1 -237v245m1 -288v323m1 -328v245m1 -234v233m1 -168v103m1 -160v358m1 -287v203m1 -138v264m1 -244v210m1 -245v223m1 -139v105m1 -146v145m1 -200v219m1 -219v244m1 -186v107m1 -162v195m1 -112v132m1 -138v188m1 -205v176m1 -200v151m1 -203v181m1 -176v192m1 -234v221m1 -291v210m1 -122v115m1 -193v224m1 -228v279m1 -275v155m1 -179v243m1 -150v176m1 -45v112m1 -124v263m1 -277v223m1 -247v216m1 -243v264m1 -360v313m1 -128v102m1 -90v139m1 -100v125m1 -186v177m1 -205v246m1 -248v192m1 -177v134m1 -331v326m1 -159v201m1 -311v207m1 -161v157m1 -150v237m1 -174v77m1 -146v172m1 -176v179m1 -189v228m1 -221v57m1 0v171m1 -210v166m1 -223v349m1 -315v182m1 -153v217m1 -257v306m1 -317v256m1 -247v194m1 -115v118m1 -275v216m1 -87v282m1 -294v178m1 -190v147m1 -109v329m1 -272v173m1 -270v227m1 -248v222m1 -263v265m1 -158v143m1 -200v153m1 -152v119m1 -208v327m1 -274v252m1 -238v145m1 -123v223m1 -124v181m1 -236v192m1 -271v246m1 -322v311m1 -302v279m1 -144v109m1 -149v155m1 -126v127m1 -202v323m1 -329v208m1 -264v166m1 -159v324m1 -193v184m1 -98v210m1 -263v260m1 -255v261m1 -240v124m1 -184v197m1 -355v338m1 -151v93m1 -246v287m1 -262v298m1 -204v150m1 -235v281m1 -233v236m1 -231v202m1 -215v118m1 -81v150m1 -182v264m1 -287v231m1 -99v147m1 -222v88m1 -90v243m1 -271v208m1 -234v222m1 -214v109m1 -25v135m1 -299v353m1 -285v224m1 -175v262m1 -294v144m1 -152v203m1 -195v306m1 -407v306m1 -213v185m1 -240v291m1 -328v300m1 -70v136m1 -183v258m1 -208v198m1 -164v140m1 -194v301m1 -280v58m1 -341v384m1 -207v246m1 -108v146m1 -140v131m1 -215v216m1 -174v275m1 -396v228m1 -193v220m1 -223v244m1 -273v216m1 -243v241m1 -164v272m1 -283v228m1 -232v214m1 -204v163m1 -226v236m1 -250v340m1 -252v209m1 -214v210m1 -273v169m1 -172v244m1 -200v219m1 -177v110m1 -70v136m1 -128v86m1 -205v293m1 -262v217m1 -174v210m1 -279v233m1 -170v209m1 -239v221m1 -257v276m1 -158v134m1 -162v210m1 -231v175m1 -200v281m1 -288v171m1 -235v150m1 -98v138m1 -214v147m1 -258v391m1 -301v229m1 -224v298m1 -321v193m1 -170v141m1 -78v143m1 -94v147m1 -144v106m1 -21v155m1 -208v312m1 -212v151m1 -235v143m1 -156v189m1 -176v204m1 -215v202m1 -172v214m1 -248v141m1 -165v162m1 -203v217m1 -278v267m1 -304v309m1 -265v240m1 -236v321m1 -226v98m1 -93v181m1 -180v209m1 -145v172m1 -305v167m1 -102v207m1 -231v164m1 -238v210m1 -181v137m1 -245v245m1 -203v219m1 -262v226m1 -179v281m1 -324v247m1 -315v267m1 -160v193m1 -286v275m1 -201v205m1 -217v192m1 -182v139m1 -67v108m1 -241v321m1 -222v201m1 -149v72m1 -102v179m1 -189v271m1 -275v264m1 -247v174m1 -239v341m1 -305v200m1 -127v240m1 -226v199m1 -187v170m1 -249v189m1 -115v137m1 -197v231m1 -230v208m1 -213v162m1 -158v131m1 -193v187m1 -163v141m1 -48v118m1 -164v172m1 -163v190m1 -243v260m1 -195v184m1 -287v308m1 -258v163m1 -158v220m1 -201v233m1 -182v256m1 -255v185m1 -148v168m1 -139v181m1 -174v197m1 -156v214m1 -224v143m1 -90v119m1 -104v99m1 -169v228m1 -286v242m1 -171v128m1 -96v145m1 -204v95m1 -113v180m1 -146v129m1 -163v272m1 -266v217m1 -303v322m1 -331v129m1 -211v316m1 -296v178m1 -304v351m1 -239v141m1 -190v211m1 -339v325m1 -171v160m1 -161v220m1 -195v249m1 -106v121m1 -255v347m1 -320v241m1 -221v238m1 -150v206m1 -246v199m1 -229v295m1 -204v169m1 -145v204m1 -284v219m1 -219v266m1 -226v217m1 -325v257m1 -248v272m1 -222v213m1 -232v221m1 -177v127m1 -206v234m1 -252v245m1 -208v243m1 -289v258m1 -205v343m1 -247v77m1 -109v179m1 -184v145m1 -326v308m1 -172v139m1 -152v185m1 -154v239m1 -230v222m1 -310v206m1 -217v375m1 -203v167m1 -214v191m1 -232v195m1 -109v110m1 -125v235m1 -266v281m1 -259v242m1 -331v241m1 -87v117m1 -250v254m1 -197v153m1 -229v228m1 -177v196m1 -161v231m1 -355v234m1 -336v242m1 -153v257m1 -278v218m1 -207v179m1 -281v239m1 -158v180m1 -106v186m1 -230v71m1 -164v390m1 -309v251m1 -202v220m1 -175v58m1 -60v117m1 -163v154m1 -189v221m1 -154v120m1 -173v230m1 -245v142m1 -162v156m1 -139v237m1 -117v130m1 -95v161m1 -214v182m1 -182v288m1 -216v142m1 -132v154m1 -195v157m1 -213v234m1 -270v220m1 -96v156m1 -187v185m1 -215v245m1 -270v277m1 -333v277m1 -313v308m1 -268v238m1 -190v235m1 -318v312m1 -225v286m1 -220v131m1 -188v364m1 -437v201m1 -222v205m1 -248v275m1 -212v147m1 -62v191m1 -310v190m1 -150v173m1 -147v147m1 -160v150m1 -157v160m1 -208v276m1 -169v155m1 -266v220m1 -240v223m1 -204v195m1 -182v206m1 -149v214m1 -354v312m1 -149v90m1 -149v165m1 -149v103m1 -50v110m1 -213v211m1 -180v193m1 -157v188m1 -218v140m1 -95v123m1 -138v64m1 -43v90m1 -173v248m1 -270v285m1 -286v209m1 -174v165m1 -231v236m1 -129v157m1 -142v235m1 -280v216m1 -182v147m1 -254v343m1 -245v306m1 -269v102m1 -218v245m1 -210v194m1 -232v262m1 -120v287m1 -367v304m1 -311v209m1 -181v300m1 -271v181m1 -269v316m1 -216v126m1 -191v238m1 -274v205m1 -160v206m1 -203v288m1 -360v361m1 -212v95m1 -221v229m1 -132v132m1 -206v264m1 -182v71m1 -39v266m1 -357v261m1 -298v191m1 -197v288m1 -161v174m1 -194v303m1 -440v296m1 -229v174m1 -238v316m1 -244v183m1 -134v77m1 -56v255m1 -279v118m1 -155v149m1 -124v145m1 -105v133m1 -104v278m1 -434v316m1 -273v195m1 -21v142m1 -208v198m1 -317v222m1 -232v296m1 -215v98m1 -138v244m1 -268v235m1 -152v146m1 -321v226m1 -229v192m1 -103v197m1 -193v203m1 -116v156m1 -133v151m1 -180v128m1 -91v72m1 -134v107m1 -250v319m1 -299v301m1 -164v204m1 -240v237m1 -194v248m1 -298v132m1 -58v100m1 -139v189m1 -163v99m1 -196v165m1 -93v233m1 -197v155m1 -130v225m1 -347v294m1 -289v223m1 -169v208m1 -337v300m1 -200v180m1 -149v199m1 -234v207m1 -138v176m1 -338v307m1 -211v279m1 -302v248m1 -145v211m1 -249v282m1 -285v196m1 -84v113m1 -133v175m1 -240v239m1 -204v150m1 -191v161m1 -168v168m1 -119v138m1 -224v217m1 -156v141m1 -168v245m1 -293v234m1 -306v253m1 -168v170m1 -114v223m1 -301v135m1 -177v256m1 -256v266m1 -167v86m1 -204v225m1 -166v301m1 -273v236m1 -302v276m1 -340v233m1 -165v132m1 -218v251m1 -253v315m1 -210v216m1 -143v156m1 -202v217m1 -213v190m1 -211v161m1 -166v141m1 -193v118m1 -28v132m1 -171v101m1 -136v200m1 -110v134m1 -204v246m1 -199v203m1 -208v157m1 -171v238m1 -136v129m1 -221v243m1 -148v121m1 -187v246m1 -142v88m1 -192v177m1 -194v252m1 -201v213m1 -229v105m1 -72v109m1 -216v221m1 -186v306m1 -380v258m1 -251v245m1 -280v310m1 -211v179m1 -185v173m1 -171v232m1 -245v249m1 -225v238m1 -155v184m1 -351v299m1 -148v206m1 -354v276m1 -208v142m1 -132v152m1 -219v224m1 -183v79m1 -1v190m1 -230v178m1 -178v107m1 -178v276m1 -165v146m1 -127v80m1 -145v311m1 -329v346m1 -347v176m1 -102v155m1 -237v172m1 -76v208m1 -265v234m1 -199v190m1 -248v113m1 -86v146m1 -205v219m1 -276v246m1 -176v231m1 -285v417m1 -384v202m1 -177v182m1 -127v183m1 -294v273m1 -199v197m1 -260v214m1 -258v216m1 -159v135m1 -182v238m1 -364v415m1 -210v153m1 -161v135m1 -201v297m1 -189v165m1 -208v233m1 -235v231m1 -260v364m1 -321v285m1 -260v190m1 -238v183m1 -211v224m1 -89v167m1 -227v263m1 -276v184m1 -172v216m1 -165v152m1 -276v212m1 -129v257m1 -355v330m1 -342v322m1 -285v293m1 -257v217m1 -330v343m1 -245v205m1 -256v264m1 -205v156m1 -159v88m1 -114v217m1 -204v217m1 -177v146m1 -188v159m1 -142v171m1 -231v309m1 -283v221m1 -233v352m1 -177v168m1 -279v221m1 -236v193m1 -70v116m1 -188v179m1 -268v283m1 -143v225m1 -232v165m1 -151v211m1 -136v155m1 -231v99m1 -173v170m1 -146v153m1 -139v157m1 -116v162m1 -177v195m1 -281v228m1 -328v263m1 -171v111m1 -243v322m1 -242v168m1 -126v190m1 -263v212m1 -55v230m1 -243v160m1 -70v169m1 -235v242m1 -298v229m1 -232v200m1 -315v163m1 -152v150m1 -95v131m1 -95v221m1 -299v143m1 -155v230m1 -152v95m1 -70v127m1 -103v123m1 -192v259m1 -291v257m1 -203v163m1 -175v235m1 -248v239m1 -265v286m1 -208v181m1 -255v230m1 -196v180m1 -231v232m1 -191v214m1 -312v469m1 -435v271m1 -223v188m1 -170v125m1 -122v187m1 -240v171m1 -271v312m1 -298v203m1 -205v188m1 -110v122m1 -198v252m1 -88v147m1 -208v273m1 -206v102m1 -13v118m1 -132v162m1 -245v185m1 -121v173m1 -323v370m1 -327v174m1 -38v88m1 -153v151m1 -125v140m1 -162v238m1 -303v310m1 -193v252m1 -317v245m1 -227v214m1 -275v292m1 -276v130m1 -83v90m1 -195v226m1 -212v242m1 -254v245m1 -265v220m1 -102v135m1 -136v47m1 -138v119m1 -66v213m1 -277v335m1 -236v140m1 -153v303m1 -220v225m1 -261v138m1 -96v95m1 -166v167m1 -189v224m1 -135v196m1 -284v140m1 -55v225m1 -288v249m1 -112v92m1 -197v174m1 -220v253m1 -213v117m1 -212v185m1 -91v210m1 -357v230m1 -183v223m1 -206v115m1 -59v153m1 -204v178m1 -269v268m1 -240v177m1 -192v288m1 -81v162m1 -236v298m1 -308v218m1 -230v179m1 -194v223m1 -280v195m1 -164v220m1 -258v216m1 -219v202m1 -321v297m1 -156v245m1 -172v165m1 -240v149m1 -154v234m1 -122v108m1 -196v172m1 -179v172m1 -61v86m1 -213v178m1 -115v92m1 -167v401m1 -280v139m1 -176v281m1 -245v316m1 -357v269m1 -323v280m1 -128v210m1 -245v95m1 -114v198m1 -161v145m1 -229v175m1 -171v144m1 -174v222m1 -245v253m1 -171v132m1 -215v219m1 -141v272m1 -320v259m1 -165v120m1 -220v229m1 -179v166m1 -253v259m1 -211v206m1 -119v159m1 -254v180m1 -197v136m1 -162v219m1 -305v275m1 -172v209m1 -305v133m1 -67v196m1 -173v206m1 -240v201m1 -160v171m1 -144v149m1 -148v95m1 -164v421m1 -415v309m1 -392v245m1 -68v199m1 -206v171m1 -254v199m1 -131v118m1 -21v88m1 -193v198m1 -255v197m1 -162v153m1 -343v337m1 -189v226m1 -231v110m1 -52v104m1 -160v156m1 -323v296m1 -115v141m1 -268v285m1 -315v271m1 -286v276m1 -276v207m1 -293v285m1 -162v140m1 -134v295m1 -243v150m1 -88v179m1 -36v185m1 -290v146m1 -134v205m1 -249v188m1 -215v163m1 -369v405m1 -199v159m1 -167v86m1 -49v241m1 -290v162m1 -149v250m1 -176v248m1 -277v169m1 -94v209m1 -311v242m1 -211v198m1 -173v114m1 -194v163m1 -196v250m1 -129v178m1 -317v288m1 -187v189m1 -223v193m1 -171v315m1 -439v291m1 -69v147m1 -217v136m1 -141v169m1 -107v155m1 -236v265m1 -202v186m1 -304v269m1 -242v267m1 -250v233m1 -285v280m1 -388v322m1 -255v237m1 -157v210m1 -247v169m1 -81v205m1 -258v248m1 -311v289m1 -113v95m1 -194v214m1 -140v129m1 -108v127m1 -206v251m1 -315v256m1 -185v194m1 -217v130m1 -223v229m1 -208v227m1 -271v291m1 -287v299m1 -223v175m1 -145v86m1 -182v255m1 -96v116m1 -276v341m1 -244v183m1 -252v400m1 -486v277m1 -116v228m1 -240v254m1 -269v360m1 -369v370m1 -389v249m1 -315v299m1 -216v111m1 -167v119m1 -146v269m1 -224v158m1 -104v221m1 -180v136m1 -173v254m1 -277v232m1 -147v168m1 -276v277m1 -184v157m1 -345v377m1 -154v127m1 -177v161m1 -173v125m1 -97v283m1 -249v166m1 -162v208m1 -211v275m1 -399v290m1 -202v206m1 -229v273m1 -410v364" stroke="#008000" stroke-width="1.000" fill="none" vector-effect="non-scaling-stroke"/>
</g></svg>
<path d="M127.2 300.5V291M173 300.5V283.5M218.8 300.5V291M264.5 300.5V283.5M310.2 300.5V291M356 300.5V283.5M401.8 300.5V291M447.5 300.5V283.5M493.2 300.5V291M539 300.5V283.5M584.8 300.5V291M81.5 254.8H91M81.5 209.1H98.5M81.5 163.4H91M81.5 117.8H98.5M81.5 72.1H91" stroke="#3a3a3a" stroke-width="1.4" fill="none"/>
<rect x="81.5" y="26.4" width="549" height="274.1" fill="none" stroke="#262626" stroke-width="2"/>
<text x="80.3" y="333.2" text-anchor="middle">0</text>
<text x="171.8" y="333.2" text-anchor="middle">50</text>
<text x="263.3" y="333.2" text-anchor="middle">100</text>
<text x="354.8" y="333.2" text-anchor="middle">150</text>
<text x="446.3" y="333.2" text-anchor="middle">200</text>
<text x="537.8" y="333.2" text-anchor="middle">250</text>
<text x="629.3" y="333.2" text-anchor="middle">300</text>
<text x="74.3" y="309.5" text-anchor="end">1.8</text>
<text x="74.3" y="218.1" text-anchor="end">1.9</text>
<text x="74.3" y="126.8" text-anchor="end">2</text>
<text x="74.3" y="35.4" text-anchor="end">2.1</text>
<text x="354" y="374.2" text-anchor="middle" font-size="28.5">Time (ns)</text>
<text transform="translate(25,163.4) rotate(-90)" text-anchor="middle" font-size="28.5">Rg (nm)</text>
<svg x="0" y="0" width="1350" height="754" overflow="hidden"><clipPath id="cTB"><rect x="774.5" y="25.4" width="548.7" height="274.2"/></clipPath><g clip-path="url(#cTB)">
<path transform="translate(774.8,0) scale(0.50018,0.1)" d="M0 1458v576m1 -445v321m1 -541v637m1 -477v378m1 -378v398m1 -269v359m1 -342v274m1 -253v364m1 -462v438m1 -394v481m1 -407v258m1 -100v188m1 -391v251m1 -218v350m1 -309v221m1 -203v436m1 -434v481m1 -539v730m1 -757v428m1 -333v381m1 -412v377m1 -379v530m1 -371v338m1 -566v311m1 -201v360m1 -400v280m1 -344v455m1 -352v261m1 -241v181m1 -300v418m1 -398v294m1 -412v437m1 -304v412m1 -323v448m1 -529v427m1 -252v475m1 -542v281m1 -242v291m1 -569v593m1 -654v473m1 -235v310m1 -272v189m1 -297v354m1 -331v317m1 -375v400m1 -269v301m1 -135v234m1 -293v529m1 -519v528m1 -406v224m1 -362v200m1 -234v201m1 -363v477m1 -298v250m1 -516v246m1 -138v316m1 -331v173m1 -432v571m1 -223v242m1 -468v467m1 -329v333m1 -257v627m1 -710v476m1 -411v274m1 -172v246m1 -390v416m1 -442v581m1 -634v338m1 -237v573m1 -741v147m1 -236v562m1 -253v390m1 -459v293m1 -347v541m1 -522v371m1 -349v417m1 -299v133m1 -101v390m1 -594v675m1 -536v249m1 -389v309m1 -366v287m1 -223v482m1 -535v351m1 -412v457m1 -299v366m1 -656v596m1 -401v592m1 -707v406m1 -366v424m1 -276v355m1 -557v538m1 -809v617m1 -370v496m1 -506v493m1 -370v576m1 -537v507m1 -626v394m1 -491v385m1 -286v544m1 -682v537m1 -578v571m1 -424v353m1 -365v289m1 -269v236m1 -476v678m1 -614v412m1 -268v251m1 -409v368m1 -291v211m1 -306v496m1 -847v619m1 -306v364m1 -423v419m1 -356v552m1 -555v409m1 -318v526m1 -742v663m1 -428v351m1 -259v305m1 -588v606m1 -405v229m1 -170v304m1 -301v359m1 -510v401m1 -424v453m1 -303v222m1 -334v601m1 -918v625m1 -300v402m1 -474v356m1 -493v585m1 -467v487m1 -563v490m1 -444v452m1 -396v452m1 -479v398m1 -500v476m1 -423v604m1 -633v589m1 -420v206m1 -262v390m1 -285v217m1 -360v407m1 -312v415m1 -348v412m1 -577v478m1 -443v173m1 -140v523m1 -479v209m1 0v346m1 -510v404m1 -400v499m1 -618v529m1 -823v896m1 -507v251m1 -243v486m1 -467v431m1 -518v391m1 -478v292m1 -180v259m1 -422v307m1 -229v481m1 -362v348m1 -534v262m1 -448v511m1 -518v484m1 -424v344m1 -181v387m1 -243v165m1 -363v456m1 -538v676m1 -496v463m1 -388v345m1 -484v429m1 -413v318m1 -208v290m1 -581v494m1 -321v325m1 -462v462m1 -340v320m1 -320v460m1 -375v473m1 -398v223m1 -267v352m1 -385v399m1 -351v389m1 -557v544m1 -380v390m1 -543v548m1 -576v569m1 -462v356m1 -517v311m1 -240v390m1 -483v343m1 -325v365m1 -424v378m1 -262v505m1 -665v435m1 -384v443m1 -488v590m1 -401v276m1 -399v251m1 -205v349m1 -358v384m1 -549v563m1 -200v192m1 -258v476m1 -474v525m1 -509v440m1 -443v385m1 -389v299m1 -347v407m1 -344v320m1 -337v146m1 -294v303m1 -143v187m1 -210v180m1 -385v192m1 -137v436m1 -555v214m1 -132v403m1 -579v589m1 -680v620m1 -428v426m1 -361v312m1 -327v743m1 -751v479m1 -364v436m1 -410v417m1 -435v602m1 -433v206m1 -319v208m1 -93v264m1 -418v465m1 -388v247m1 -410v402m1 -226v438m1 -392v335m1 -271v369m1 -343v417m1 -430v419m1 -441v603m1 -502v330m1 -477v528m1 -397v348m1 -456v376m1 -453v471m1 -325v395m1 -222v239m1 -308v283m1 -150v337m1 -423v468m1 -548v650m1 -550v248m1 -408v337m1 -298v221m1 -366v345m1 -247v301m1 -364v294m1 -355v315m1 -269v213m1 -129v321m1 -183v407m1 -602v666m1 -403v166m1 -345v454m1 -321v204m1 -338v690m1 -508v447m1 -453v365m1 -368v285m1 -442v441m1 -345v387m1 -536v197m1 -311v571m1 -342v347m1 -500v393m1 -346v560m1 -540v474m1 -356v191m1 -88v311m1 -536v647m1 -670v567m1 -631v620m1 -632v311m1 -25v344m1 -518v534m1 -423v231m1 -124v380m1 -455v297m1 -447v453m1 -269v310m1 -613v585m1 -482v494m1 -302v310m1 -392v613m1 -449v306m1 -433v431m1 -393v472m1 -514v365m1 -284v380m1 -440v540m1 -575v651m1 -456v418m1 -509v568m1 -505v494m1 -597v574m1 -403v553m1 -507v421m1 -523v475m1 -361v332m1 -267v312m1 -478v394m1 -587v334m1 -280v354m1 -374v479m1 -220v386m1 -702v515m1 -503v413m1 -546v668m1 -663v489m1 -260v318m1 -359v484m1 -462v274m1 -302v400m1 -428v351m1 -349v611m1 -515v487m1 -320v294m1 -379v282m1 -437v599m1 -451v407m1 -423v327m1 -234v374m1 -573v379m1 -262v499m1 -795v427m1 -535v764m1 -621v609m1 -446v254m1 -314v366m1 -426v600m1 -430v526m1 -521v438m1 -526v599m1 -619v535m1 -583v600m1 -464v395m1 -487v368m1 -298v111m1 -70v266m1 -285v299m1 -280v519m1 -622v489m1 -474v468m1 -167v490m1 -647v411m1 -258v197m1 -148v251m1 -663v620m1 -420v242m1 -243v400m1 -281v262m1 -330v152m1 -182v621m1 -587v601m1 -625v618m1 -453v334m1 -279v271m1 -229v273m1 -475v361m1 -384v380m1 -378v457m1 -301v246m1 -566v504m1 -222v301m1 -346v280m1 -276v286m1 -294v214m1 -223v344m1 -296v440m1 -350v277m1 -318v380m1 -266v160m1 -388v446m1 -408v375m1 -199v249m1 -624v288m1 -388v696m1 -543v535m1 -711v292m1 -204v477m1 -390v390m1 -521v492m1 -324v286m1 -498v566m1 -219v287m1 -587v653m1 -472v521m1 -552v534m1 -744v769m1 -547v297m1 -518v645m1 -491v474m1 -520v598m1 -513v629m1 -512v606m1 -677v411m1 -333v294m1 -606v917m1 -793v379m1 -795v878m1 -508v329m1 -252v379m1 -540v627m1 -340v259m1 -236v176m1 -79v418m1 -695v301m1 -346v668m1 -569v396m1 -399v403m1 -606v638m1 -403v283m1 -294v410m1 -512v312m1 -126v348m1 -460v741m1 -646v251m1 -256v595m1 -534v251m1 -439v356m1 -236v410m1 -352v369m1 -454v905m1 -739v298m1 -566v367m1 -380v593m1 -364v291m1 -231v204m1 -400v343m1 -509v543m1 -388v436m1 -316v388m1 -478v264m1 -253v351m1 -537v449m1 -368v543m1 -551v369m1 -200v434m1 -721v602m1 -402v446m1 -471v589m1 -532v559m1 -444v539m1 -500v313m1 -318v413m1 -507v481m1 -435v374m1 -424v423m1 -402v582m1 -451v246m1 -247v254m1 -728v585m1 -257v324m1 -304v298m1 -371v538m1 -398v412m1 -623v594m1 -436v260m1 -281v388m1 -201v140m1 -303v582m1 -557v454m1 -520v454m1 -332v446m1 -515v355m1 -517v428m1 -464v320m1 -376v361m1 -446v191m1 -343v422m1 -427v693m1 -582v412m1 -318v661m1 -911v657m1 -283v381m1 -541v442m1 -295v477m1 -433v385m1 -455v370m1 -318v335m1 -501v612m1 -726v322m1 -207v532m1 -481v332m1 -341v504m1 -486v419m1 -348v562m1 -497v217m1 -230v409m1 -605v730m1 -712v551m1 -300v397m1 -422v591m1 -590v300m1 -511v450m1 -277v302m1 -336v432m1 -561v456m1 -276v264m1 -255v502m1 -504v269m1 -329v319m1 -292v283m1 -376v452m1 -391v246m1 -457v611m1 -496v328m1 -201v387m1 -441v548m1 -572v590m1 -587v255m1 -362v334m1 -303v386m1 -408v445m1 -542v847m1 -672v297m1 -708v577m1 -512v693m1 -528v423m1 -538v306m1 -228v533m1 -503v528m1 -709v712m1 -395v411m1 -565v636m1 -403v375m1 -522v501m1 -472v520m1 -713v674m1 -717v740m1 -655v318m1 -195v314m1 -520v604m1 -763v387m1 0v227m1 -519v383m1 0v363m1 -559v457m1 -272v345m1 -353v430m1 -582v394m1 -733v702m1 -553v641m1 -500v436m1 -548v610m1 -692v392m1 -315v533m1 -466v453m1 -395v360m1 -246v173m1 -174v402m1 -483v345m1 -307v255m1 -476v621m1 -424v636m1 -650v662m1 -553v390m1 -354v744m1 -758v411m1 -206v181m1 -673v588m1 -319v459m1 -625v831m1 -597v394m1 -385v447m1 -713v398m1 -130v123m1 -279v557m1 -506v389m1 -226v255m1 -298v361m1 -345v514m1 -621v536m1 -222v401m1 -604v629m1 -690v431m1 -352v310m1 -621v540m1 -494v266m1 -292v267m1 -431v649m1 -514v471m1 -220v316m1 -449v361m1 -521v478m1 -326v668m1 -933v668m1 -433v575m1 -616v380m1 -455v428m1 -391v373m1 -311v276m1 -280v504m1 -725v702m1 -558v421m1 -641v817m1 -490v627m1 -667v481m1 -132v262m1 -380v432m1 -557v477m1 -221v409m1 -666v538m1 -528v331m1 -754v806m1 -447v373m1 -539v561m1 -461v460m1 -477v432m1 -371v514m1 -364v602m1 -539v479m1 -605v693m1 -491v389m1 -749v617m1 -536v570m1 -665v863m1 -853v653m1 -808v608m1 -335v374m1 -440v423m1 -599v655m1 -549v332m1 -319v406m1 -910v894m1 -560v390m1 -113v560m1 -866v667m1 -427v252m1 -104v648m1 -725v422m1 -262v244m1 -411v231m1 -129v176m1 -295v333m1 -466v593m1 -724v750m1 -596v632m1 -517v431m1 -868v729m1 -585v663m1 -686v681m1 -366v198m1 -255v348m1 -376v255m1 -265v509m1 -654v616m1 -503v356m1 -435v487m1 -672v574m1 -315v539m1 -525v684m1 -694v550m1 -542v703m1 -596v606m1 -1031v1048m1 -682v781m1 -755v645m1 -808v557m1 -202v146m1 -211v383m1 -394v436m1 -484v640m1 -600v338m1 -419v342m1 -523v466m1 -138v460m1 -614v487m1 -321v355m1 -468v476m1 -573v618m1 -379v265m1 -506v371m1 -119v402m1 -366v326m1 -276v256m1 -494v517m1 -824v1117m1 -824v492m1 -678v705m1 -513v735m1 -1089v701m1 -249v709m1 -865v621m1 -515v505m1 -642v629m1 -497v468m1 -621v685m1 -825v541m1 -720v779m1 -373v540m1 -411v353m1 -452v632m1 -358v367m1 -600v664m1 -250v290m1 -584v445m1 -659v615m1 -516v452m1 -578v242m1 0v358m1 -744v793m1 -762v296m1 -135v485m1 -321v176m1 -254v385m1 -491v261m1 -279v322m1 -220v277m1 -231v347m1 -584v886m1 -596v491m1 -474v321m1 -347v425m1 -566v514m1 -478v416m1 -256v543m1 -536v230m1 -376v539m1 -306v208m1 -655v628m1 -674v681m1 -1007v757m1 -259v201m1 -430v341m1 -203v262m1 -224v620m1 -622v379m1 -460v809m1 -836v698m1 -443v442m1 -794v728m1 -654v787m1 -649v636m1 -412v257m1 -387v614m1 -698v223m1 -347v499m1 -666v627m1 -171v312m1 -678v782m1 -643v441m1 -450v587m1 -403v550m1 -444v337m1 -720v629m1 -528v358m1 -444v512m1 -608v638m1 -674v707m1 -268v186m1 -386v765m1 -690v625m1 -585v426m1 -263v331m1 -322v375m1 -601v539m1 -389v233m1 -513v429m1 -358v449m1 -507v526m1 -470v448m1 -549v454m1 -283v603m1 -872v722m1 -694v704m1 -747v662m1 -566v773m1 -1158v538m1 -154v581m1 -463v213m1 -499v662m1 -584v584m1 -297v327m1 -489v412m1 -167v417m1 -520v590m1 -717v545m1 -425v622m1 -749v712m1 -774v569m1 -506v363m1 -284v465m1 -514v333m1 -223v240m1 0v482m1 -433v386m1 -434v487m1 -593v537m1 -494v392m1 -513v375m1 -778v767m1 -823v596m1 -479v446m1 -378v370m1 -349v481m1 -551v539m1 -356v631m1 -468v458m1 -613v560m1 -457v400m1 -466v315m1 -518v389m1 -272v190m1 -48v268m1 -653v562m1 -412v425m1 -372v270m1 -245v488m1 -659v696m1 -590v553m1 -707v618m1 -291v436m1 -422v327m1 -437v269m1 -255v469m1 -781v655m1 -631v683m1 -702v487m1 -589v683m1 -542v225m1 -177v463m1 -483v483m1 -361v225m1 -381v573m1 -515v630m1 -570v555m1 -849v683m1 -614v471m1 -439v613m1 -588v513m1 -221v474m1 -444v503m1 -583v484m1 -595v473m1 -388v365m1 -327v360m1 -562v492m1 -390v377m1 -343v529m1 -665v178m1 -290v609m1 -618v562m1 -385v343m1 -468v553m1 -186v361m1 -705v390m1 -499v738m1 -766v783m1 -653v345m1 -511v826m1 -618v399m1 -797v652m1 -596v786m1 -673v373m1 -347v426m1 -385v569m1 -560v419m1 -384v549m1 -421v485m1 -489v419m1 -322v406m1 -385v236m1 -349v686m1 -580v504m1 -581v659m1 -467v450m1 -420v228m1 -487v539m1 -548v558m1 -687v379m1 -343v410m1 -394v532m1 -746v538m1 -374v573m1 -608v400m1 -148v592m1 -1006v733m1 -256v391m1 -329v466m1 -393v371m1 -520v555m1 -511v562m1 -440v355m1 -439v636m1 -450v310m1 -407v602m1 -614v618m1 -410v443m1 -426v414m1 -628v633m1 -377v340m1 -722v574m1 -354v566m1 -854v621m1 -387v341m1 -566v553m1 -415v551m1 -590v600m1 -352v300m1 -483v527m1 -465v428m1 -526v346m1 -386v660m1 -729v592m1 -690v592m1 -349v446m1 -491v640m1 -539v350m1 -565v574m1 -459v397m1 -183v491m1 -757v470m1 -398v718m1 -661v504m1 -881v849m1 -498v291m1 -764v763m1 -262v332m1 -286v208m1 -225v478m1 -614v379m1 -304v556m1 -437v439m1 -551v716m1 -633v834m1 -849v580m1 -546v451m1 -479v465m1 -568v475m1 -383v443m1 -317v514m1 -523v354m1 -412v407m1 -568v899m1 -965v888m1 -744v545m1 -700v992m1 -628v452m1 -716v583m1 -445v415m1 -591v490m1 -127v190m1 -494v344m1 -136v179m1 -573v645m1 -343v181m1 -273v784m1 -819v524m1 -462v407m1 -531v390m1 -684v708m1 -346v597m1 -713v568m1 -162v318m1 -562v536m1 -649v548m1 -405v340m1 -335v466m1 -410v459m1 -723v862m1 -627v396m1 -276v432m1 -721v431m1 -372v420m1 -378v501m1 -494v587m1 -920v577m1 -208v439m1 -460v572m1 -484v277m1 -344v543m1 -301v424m1 -531v573m1 -695v723m1 -725v514m1 -371v519m1 -464v519m1 -819v662m1 -822v955m1 -669v443m1 -480v382m1 -640v415m1 -340v687m1 -700v679m1 -524v365m1 -150v195m1 -276v357m1 -621v834m1 -538v420m1 -381v346m1 -391v715m1 -824v595m1 -555v648m1 -400v378m1 -839v708m1 -628v451m1 -413v514m1 -592v502m1 -604v712m1 -635v750m1 -674v427m1 -312v457m1 -653v450m1 -387v412m1 -274v473m1 -834v662m1 -598v411m1 -276v493m1 -543v460m1 -422v467m1 -398v478m1 -583v732m1 -592v347m1 -91v474m1 -714v677m1 -864v787m1 -546v494m1 -629v348m1 -421v380m1 -283v368m1 -544v486m1 -523v430m1 -302v591m1 -416v499m1 -722v688m1 -708v514m1 -459v677m1 -692v608m1 -289v205m1 -252v375m1 -461v438m1 -441v396m1 -445v716m1 -752v541m1 -386v398m1 -504v487m1 -577v534m1 -244v253m1 -634v548m1 -421v558m1 -345v287m1 -418v435m1 -381v301m1 -432v380m1 -415v526m1 -449v509m1 -811v770m1 -360v387m1 -411v354m1 -531v420m1 -375v642m1 -654v848m1 -866v572m1 -498v898m1 -820v588m1 -666v791m1 -1054v917m1 -993v847m1 -456v481m1 -609v681m1 -635v610m1 -1030v764m1 -383v516m1 -434v504m1 -488v724m1 -666v365m1 -532v449m1 -567v514m1 -495v381m1 -378v403m1 -501v659m1 -524v418m1 -329v310m1 -176v464m1 -559v465m1 -444v685m1 -610v596m1 -529v490m1 -860v663m1 -624v472m1 -318v258m1 -454v501m1 -296v188" stroke="#000000" stroke-width="1.000" fill="none" vector-effect="non-scaling-stroke"/>
<path transform="translate(774.8,0) scale(0.50018,0.1)" d="M0 791v505m1 -476v324m1 -475v647m1 -401v347m1 -516v524m1 -450v745m1 -405v244m1 -383v392m1 -414v263m1 -205v626m1 -452v255m1 -540v397m1 -279v177m1 -188v555m1 -679v605m1 -558v218m1 -209v410m1 -388v274m1 -542v429m1 -124v384m1 -409v333m1 -261v270m1 -440v325m1 -387v389m1 -512v393m1 -560v610m1 -393v465m1 -432v349m1 -473v385m1 -164v246m1 -232v394m1 -528v527m1 -342v372m1 -395v274m1 -328v226m1 -109v199m1 -486v506m1 -368v370m1 -171v356m1 -547v555m1 -232v142m1 -222v342m1 -387v356m1 -598v554m1 -395v362m1 -545v672m1 -368v321m1 -293v514m1 -529v446m1 -331v344m1 -267v298m1 -627v457m1 -243v193m1 -316v438m1 -565v335m1 -335v533m1 -465v354m1 -410v400m1 -358v841m1 -921v626m1 -331v449m1 -403v491m1 -446v319m1 -364v368m1 -475v444m1 -487v490m1 -608v498m1 -475v531m1 -231v233m1 -380v524m1 -441v496m1 -458v417m1 -454v458m1 -456v379m1 -191v227m1 -233v381m1 -209v190m1 -659v460m1 -351v517m1 -566v267m1 -322v378m1 -308v369m1 -306v564m1 -406v195m1 -476v549m1 -296v472m1 -530v253m1 -324v444m1 -494v369m1 -83v283m1 -356v387m1 -697v709m1 -425v170m1 -420v672m1 -788v444m1 -311v468m1 -324v346m1 -187v201m1 -312v458m1 -323v546m1 -573v424m1 -444v367m1 -431v335m1 -411v266m1 -291v329m1 -466v462m1 -490v551m1 -300v285m1 -482v478m1 -368v656m1 -593v518m1 -463v567m1 -754v583m1 -515v469m1 -765v764m1 -413v449m1 -438v545m1 -439v232m1 -472v502m1 -354v473m1 -561v567m1 -242v426m1 -782v576m1 -417v195m1 -224v346m1 -524v477m1 -315v597m1 -767v536m1 -549v365m1 -229v409m1 -391v323m1 -301v422m1 -410v395m1 -368v349m1 -683v561m1 -474v454m1 -403v234m1 -275v310m1 -304v349m1 -368v540m1 -338v341m1 -244v272m1 -568v617m1 -449v260m1 -362v453m1 -218v460m1 -522v302m1 -577v599m1 -563v576m1 -590v448m1 -396v507m1 -341v351m1 -538v432m1 -396v424m1 -487v406m1 -453v454m1 -502v246m1 -194v360m1 -99v332m1 -540v205m1 -166v193m1 -153v307m1 -625v544m1 -400v403m1 -178v76m1 -264v352m1 -390v475m1 -351v142m1 -67v193m1 -281v240m1 -391v430m1 -263v238m1 -374v496m1 -400v456m1 -448v312m1 -243v305m1 -443v327m1 -359v234m1 -172v328m1 -440v541m1 -413v394m1 -285v230m1 -361v430m1 -423v262m1 -588v607m1 -507v526m1 -431v518m1 -447v442m1 -452v281m1 -97v363m1 -370v196m1 -285v244m1 -463v571m1 -465v459m1 -444v505m1 -565v317m1 -192v382m1 -602v505m1 -368v200m1 -232v321m1 -410v479m1 -313v437m1 -341v272m1 -320v324m1 -367v581m1 -645v457m1 -582v629m1 -361v266m1 -379v535m1 -726v604m1 -376v485m1 -507v410m1 -202v231m1 -262v410m1 -602v496m1 -355v325m1 -259v224m1 -589v595m1 -291v272m1 -393v228m1 -288v435m1 -385v350m1 -377v448m1 -504v464m1 -165v524m1 -540v258m1 -197v331m1 -398v218m1 -258v350m1 -326v394m1 -461v280m1 -488v466m1 -495v439m1 -435v484m1 -449v601m1 -694v328m1 -301v148m1 -258v579m1 -710v493m1 -226v165m1 -338v306m1 0v256m1 -451v639m1 -663v566m1 -233v298m1 -216v144m1 -289v504m1 -571v430m1 -365v420m1 -515v310m1 -329v231m1 -289v314m1 -318v845m1 -928v469m1 -466v589m1 -334v329m1 -337v369m1 -289v400m1 -305v415m1 -380v434m1 -518v520m1 -346v478m1 -586v356m1 -434v308m1 -272v546m1 -633v453m1 -607v522m1 -454v704m1 -603v362m1 -601v423m1 -392v431m1 -564v723m1 -562v453m1 -376v292m1 -322v450m1 -354v191m1 -298v329m1 -238v569m1 -661v423m1 -640v490m1 -511v572m1 -459v341m1 -357v387m1 -193v314m1 -347v372m1 -314v427m1 -378v292m1 -431v438m1 -603v536m1 -267v153m1 -283v364m1 -148v155m1 -145v339m1 -749v729m1 -490v543m1 -426v410m1 -161v198m1 -606v482m1 -263v419m1 -506v486m1 -480v420m1 -510v518m1 -338v422m1 -451v380m1 -478v466m1 -332v304m1 -383v289m1 -413v403m1 -383v464m1 -429v422m1 -431v472m1 -495v435m1 -553v613m1 -378v478m1 -586v317m1 -477v564m1 -455v340m1 -308v347m1 -238v251m1 -412v418m1 -581v719m1 -526v344m1 -381v346m1 -258v387m1 -490v384m1 -494v539m1 -504v451m1 -259v231m1 -464v613m1 -484v251m1 -267v447m1 -481v538m1 -420v375m1 -339v409m1 -385v367m1 -485v343m1 -366v335m1 -563v764m1 -575v411m1 -469v608m1 -436v182m1 -173v312m1 -458v493m1 -363v421m1 -605v458m1 -691v934m1 -653v427m1 -226v290m1 -355v211m1 -348v219m1 -154v473m1 -524v407m1 -570v706m1 -673v535m1 -364v328m1 -438v509m1 -467v561m1 -601v399m1 -404v449m1 -540v680m1 -697v656m1 -523v320m1 -201v471m1 -572v466m1 -208v270m1 -488v358m1 -422v436m1 -360v285m1 -284v404m1 -517v512m1 -661v648m1 -346v423m1 -551v437m1 -311v479m1 -653v511m1 -298v278m1 -380v389m1 -362v431m1 -332v639m1 -684v345m1 -546v370m1 -414v468m1 -441v411m1 -366v367m1 -594v490m1 -352v310m1 -265v205m1 -403v524m1 -126v287m1 -421v432m1 -464v520m1 -350v261m1 -238v243m1 -243v333m1 -479v630m1 -444v601m1 -590v368m1 -344v203m1 -242v306m1 -385v303m1 -192v281m1 -331v332m1 -519v686m1 -513v422m1 -524v467m1 -524v223m1 -128v296m1 -239v375m1 -506v335m1 -396v365m1 -275v379m1 -401v326m1 -326v400m1 -450v313m1 -317v523m1 -313v235m1 -483v510m1 -401v357m1 -362v464m1 -554v486m1 -260v268m1 -482v404m1 -273v342m1 -721v826m1 -395v441m1 -623v664m1 -587v468m1 -564v397m1 -328v641m1 -700v540m1 -530v469m1 -274v309m1 -427v433m1 -418v347m1 -416v464m1 -548v384m1 -529v784m1 -719v290m1 -497v577m1 -16v155m1 -437v522m1 -475v498m1 -310v364m1 -515v427m1 -276v432m1 -508v452m1 -544v571m1 -309v246m1 -428v507m1 -478v260m1 -287v445m1 -283v481m1 -696v507m1 -518v443m1 -306v424m1 -737v780m1 -482v384m1 -413v483m1 -559v519m1 -575v615m1 -425v413m1 -354v349m1 -791v1236m1 -781v186m1 -324v470m1 -451v287m1 -237v232m1 -247v319m1 -587v625m1 -479v433m1 -305v388m1 -561v390m1 -499v474m1 -330v454m1 -390v599m1 -512v462m1 -332v474m1 -383v232m1 -291v326m1 -445v418m1 -330v443m1 -559v464m1 -273v158m1 -243v306m1 -197v214m1 -464v578m1 -368v253m1 -235v349m1 -450v338m1 -126v306m1 -523v368m1 -272v385m1 -268v327m1 -208v377m1 -346v488m1 -651v569m1 -644v810m1 -761v347m1 -519v381m1 -122v462m1 -543v492m1 -562v501m1 -306v377m1 -269v715m1 -756v415m1 -473v670m1 -617v215m1 -158v198m1 -516v480m1 -252v403m1 -654v713m1 -558v283m1 -543v529m1 -490v548m1 -472v427m1 -348v319m1 -330v541m1 -326v286m1 -387v426m1 -151v329m1 -564v545m1 -256v420m1 -717v498m1 -629v712m1 -363v603m1 -562v348m1 -485v697m1 -769v617m1 -568v193m1 -285v395m1 -295v618m1 -439v500m1 -516v482m1 -488v264m1 -290v290m1 -309v366m1 -302v451m1 -470v607m1 -581v288m1 -234v601m1 -890v337m1 -189v366m1 -415v271m1 -309v425m1 -509v422m1 -141v392m1 -453v315m1 -361v324m1 -261v372m1 -561v637m1 -571v733m1 -464v235m1 -289v323m1 -264v415m1 -616v616m1 -388v205m1 -163v382m1 -800v515m1 -217v293m1 -382v290m1 -350v279m1 -354v333m1 -511v651m1 -215v458m1 -501v273m1 -260v139m1 -314v270m1 -366v622m1 -423v263m1 -201v358m1 -432v299m1 -240v639m1 -625v542m1 -523v415m1 -653v430m1 -519v536m1 -470v449m1 -413v254m1 -410v304m1 -158v253m1 -377v336m1 -249v412m1 -255v242m1 -247v230m1 -281v417m1 -291v260m1 -474v470m1 -346v278m1 -559v633m1 -464v506m1 -352v572m1 -485v260m1 -262v460m1 -363v380m1 -611v243m1 -241v668m1 -686v503m1 -914v856m1 -539v599m1 -636v561m1 -437v361m1 -460v397m1 -542v350m1 -321v327m1 -117v110m1 -410v491m1 -578v617m1 -368v462m1 -441v447m1 -364v266m1 -243v427m1 -509v495m1 -534v397m1 -289v644m1 -372v281m1 -463v493m1 -250v526m1 -745v531m1 -712v335m1 -268v389m1 -396v365m1 -489v716m1 -893v891m1 -694v527m1 -321v214m1 -83v332m1 -316v307m1 -361v297m1 -586v677m1 -507v376m1 -543v417m1 -324v132m1 -278v271m1 -480v556m1 -522v621m1 -287v402m1 -626v671m1 -460v347m1 -673v515m1 -374v461m1 -587v604m1 -498v511m1 -385v362m1 -258v352m1 -667v712m1 -594v616m1 -576v515m1 -476v298m1 -153v225m1 -327v391m1 -384v103m1 -278v606m1 -526v480m1 -452v513m1 -620v482m1 -250v334m1 -511v428m1 -446v403m1 -274v410m1 -566v461m1 -517v567m1 -471v683m1 -541v427m1 -549v783m1 -613v409m1 -352v412m1 -262v312m1 -548v315m1 -372v392m1 -228v298m1 -606v439m1 -280v608m1 -555v263m1 -213v256m1 -201v360m1 -485v381m1 -315v351m1 -459v532m1 -426v524m1 -572v423m1 -509v383m1 -299v402m1 -684v645m1 -386v535m1 -579v548m1 -704v519m1 -304v255m1 -264v546m1 -532v321m1 -266v437m1 -520v478m1 -302v158m1 -279v440m1 -387v285m1 -514v677m1 -712v617m1 -368v477m1 -699v348m1 -375v468m1 -552v901m1 -733v311m1 -428v497m1 -232v358m1 -567v419m1 -247v209m1 -314v450m1 -659v560m1 -485v239m1 -327v352m1 -106v299m1 -383v539m1 -920v800m1 -514v542m1 -315v260m1 -373v482m1 -256v356m1 -343v222m1 -154v410m1 -650v460m1 -355v501m1 -404v397m1 -497v305m1 -270v357m1 -375v218m1 -226v146m1 -249v487m1 -341v341m1 -537v542m1 -547v617m1 -399v289m1 -309v392m1 -553v511m1 -489v565m1 -447v341m1 -233v249m1 -342v512m1 -451v415m1 -324v416m1 -415v372m1 -474v329m1 -409v516m1 -482v357m1 -438v429m1 -306v300m1 -358v395m1 -451v281m1 -145v211m1 -266v339m1 -299v278m1 -368v474m1 -726v613m1 -564v300m1 -177v316m1 -509v698m1 -488v527m1 -577v498m1 -646v694m1 -601v531m1 -265v391m1 -403v348m1 -264v309m1 -691v497m1 -108v313m1 -284v419m1 -520v342m1 -360v433m1 -392v343m1 -267v293m1 -384v360m1 -182v248m1 -510v396m1 -323v264m1 -428v375m1 -249v507m1 -434v239m1 -534v546m1 -181v406m1 -565v562m1 -485v404m1 -332v572m1 -569v491m1 -283v256m1 -586v332m1 -336v320m1 -530v661m1 -445v373m1 -347v387m1 -531v307m1 -260v447m1 -593v558m1 -281v425m1 -813v768m1 -622v444m1 -193v297m1 -431v398m1 -277v388m1 -449v478m1 -416v325m1 -311v453m1 -364v347m1 -520v407m1 -285v228m1 -356v554m1 -633v324m1 -357v633m1 -615v257m1 -274v621m1 -702v612m1 -378v572m1 -733v443m1 -306v322m1 -266v269m1 -556v687m1 -450v335m1 -691v604m1 -396v611m1 -431v153m1 -196v173m1 -102v348m1 -605v382m1 -307v636m1 -528v650m1 -647v335m1 -277v633m1 -533v465m1 -520v227m1 -73v256m1 -364v413m1 -432v486m1 -595v397m1 -364v257m1 -271v464m1 -707v720m1 -613v701m1 -485v237m1 -290v347m1 -449v617m1 -577v335m1 -418v236m1 -307v541m1 -368v246m1 -248v507m1 -639v348m1 -186v296m1 -212v264m1 -548v432m1 -479v561m1 -700v545m1 -428v567m1 -485v320m1 -224v418m1 -241v322m1 -509v459m1 -709v519m1 -501v498m1 -380v260m1 -349v360m1 -473v373m1 -379v480m1 -274v300m1 -321v544m1 -289v388m1 -762v555m1 -113v454m1 -539v353m1 -474v325m1 -526v413m1 -372v308m1 -264v203m1 -348v362m1 -60v202m1 -400v400m1 -369v800m1 -847v450m1 -378v514m1 -636v489m1 -242v260m1 -188v257m1 -368v395m1 -254v263m1 -514v653m1 -449v455m1 -559v430m1 -214v227m1 -402v520m1 -401v282m1 -431v495m1 -361v256m1 -302v450m1 -420v182m1 -363v553m1 -475v212m1 -220v488m1 -484v294m1 -446v372m1 -229v389m1 -309v348m1 -540v414m1 -253v319m1 -386v446m1 -357v279m1 -406v388m1 -306v294m1 -325v472m1 -460v416m1 -524v408m1 -406v360m1 -275v363m1 -416v445m1 -678v608m1 -408v311m1 -319v272m1 -225v741m1 -630v381m1 -426v215m1 -292v512m1 -273v311m1 -500v480m1 -414v204m1 -100v221m1 -300v270m1 -167v505m1 -531v309m1 -215v134m1 -471v715m1 -474v296m1 -416v542m1 -359v440m1 -430v237m1 -361v431m1 -388v337m1 -174v379m1 -476v346m1 -437v521m1 -534v486m1 -372v409m1 -551v655m1 -486v521m1 -187v264m1 -287v196m1 -437v648m1 -444v327m1 -424v356m1 -340v256m1 -378v619m1 -552v362m1 -706v482m1 -279v339m1 -483v620m1 -450v348m1 -391v354m1 -268v551m1 -762v524m1 -232v344m1 -376v318m1 -200v546m1 -521v357m1 -592v481m1 -760v730m1 -427v326m1 -405v359m1 -265v377m1 -427v288m1 -347v441m1 -616v501m1 -420v512m1 -413v384m1 -417v339m1 -213v418m1 -366v169m1 -237v319m1 -413v464m1 -600v504m1 -284v510m1 -492v434m1 -272v329m1 -297v303m1 -531v552m1 -488v481m1 -499v301m1 -337v386m1 -383v320m1 -251v522m1 -562v473m1 -594v604m1 -688v673m1 -506v406m1 -450v515m1 -622v561m1 -575v555m1 -484v440m1 -319v462m1 -449v238m1 -424v450m1 -498v393m1 -403v326m1 -255v358m1 -291v434m1 -599v693m1 -545v299m1 -516v401m1 -314v419m1 -404v468m1 -591v621m1 -496v312m1 -336v397m1 -364v305m1 -395v525m1 -729v483m1 -291v453m1 -535v315m1 -288v276m1 -173v287m1 -259v378m1 -556v193m1 -216v458m1 -446v417m1 -270v385m1 -293v352m1 -235v267m1 -388v470m1 -441v428m1 -404v311m1 -355v226m1 -195v285m1 -312v318m1 -329v450m1 -372v491m1 -376v611m1 -849v548m1 -492v543m1 -547v453m1 -606v354m1 -335v389m1 -414v364m1 -452v612m1 -470v557m1 -733v564m1 -134v171m1 -143v72m1 -455v796m1 -617v367m1 -367v428m1 -471v345m1 -304v428m1 -545v477m1 -363v285m1 -263v391m1 -803v654m1 -332v213m1 -417v620m1 -319v190m1 -203v539m1 -511v493m1 -564v407m1 -523v796m1 -614v427m1 -306v398m1 -401v142m1 -237v490m1 -676v467m1 -570v602m1 -513v357m1 -240v293m1 -233v275m1 -558v540m1 -431v531m1 -561v556m1 -372v375m1 -227v156m1 -268v517m1 -733v326m1 -276v436m1 -503v522m1 -602v512m1 -508v411m1 -505v501m1 -446v222m1 -38v184m1 -390v442m1 -242v100m1 -115v548m1 -565v422m1 -421v423m1 -413v415m1 -464v524m1 -376v346m1 -203v360m1 -371v445m1 -414v303m1 -457v359m1 -362v349m1 -299v388m1 -316v385m1 -365v239m1 -150v366m1 -529v465" stroke="#ff0000" stroke-width="1.000" fill="none" vector-effect="non-scaling-stroke"/>
<path transform="translate(774.8,0) scale(0.50018,0.1)" d="M0 1868v469m1 -561v206m1 -360v335m1 -218v128m1 -637v736m1 -632v618m1 -450v490m1 -614v511m1 -352v458m1 -407v428m1 -461v357m1 -534v1023m1 -724v527m1 -490v367m1 -563v449m1 -323v369m1 -368v313m1 -460v233m1 -418v585m1 -582v434m1 -378v425m1 -306v389m1 -309v206m1 -154v347m1 -676v625m1 -434v472m1 -548v298m1 -66v274m1 -369v487m1 -520v485m1 -369v304m1 -407v756m1 -751v457m1 -325v419m1 -610v535m1 -570v507m1 -387v551m1 -461v231m1 -257v337m1 -134v120m1 -456v413m1 -571v396m1 -186v225m1 -160v446m1 -588v582m1 -550v216m1 -266v486m1 -489v380m1 -347v461m1 -409v372m1 -448v497m1 -322v218m1 -20v443m1 -516v246m1 -338v275m1 -585v523m1 -231v465m1 -628v356m1 -252v358m1 -380v275m1 -188v422m1 -466v335m1 -594v562m1 -535v493m1 -421v432m1 -391v547m1 -506v505m1 -433v514m1 -493v459m1 -839v667m1 -292v349m1 -432v311m1 -510v559m1 -398v638m1 -532v380m1 -378v282m1 -143v271m1 -467v456m1 -399v537m1 -563v526m1 -349v401m1 -425v322m1 -436v421m1 -423v306m1 -367v705m1 -589v283m1 -362v274m1 -361v482m1 -464v313m1 -571v740m1 -231v337m1 -543v308m1 -248v418m1 -321v415m1 -400v293m1 -273v490m1 -598v418m1 -474v406m1 -525v446m1 -314v367m1 -151v293m1 -475v304m1 -249v395m1 -514v346m1 -196v313m1 -329v340m1 -753v625m1 -367v532m1 -586v472m1 -689v590m1 -461v524m1 -451v543m1 -685v616m1 -525v409m1 -280v383m1 -463v297m1 -327v515m1 -426v252m1 -172v371m1 -423v336m1 -237v343m1 -291v354m1 -522v438m1 -261v308m1 -426v325m1 -544v624m1 -378v194m1 -200v374m1 -297v270m1 -475v314m1 -266v618m1 -506v568m1 -467v225m1 -285v402m1 -314v556m1 -553v228m1 -286v326m1 -418v353m1 -535v498m1 -380v280m1 -396v507m1 -226v167m1 -436v495m1 -354v414m1 -340v427m1 -486v131m1 -168v560m1 -590v325m1 -510v750m1 -425v424m1 -296v282m1 -516v470m1 -438v324m1 -381v563m1 -508v394m1 -398v385m1 -408v437m1 -366v419m1 -608v453m1 -317v357m1 -311v362m1 -323v520m1 -674v334m1 -295v302m1 -439v368m1 -258v420m1 -216v426m1 -628v271m1 -184v353m1 -454v656m1 -478v578m1 -725v452m1 -213v593m1 -594v425m1 -554v466m1 -271v183m1 -434v339m1 -495v831m1 -557v339m1 -636v565m1 -525v283m1 -424v324m1 -63v304m1 -515v482m1 -295v368m1 -432v458m1 -416v506m1 -256v128m1 -300v404m1 -477v443m1 -252v473m1 -544v490m1 -493v404m1 -367v536m1 -553v538m1 -935v1021m1 -536v449m1 -389v403m1 -830v763m1 -443v379m1 -689v593m1 -317v176m1 -350v241m1 -36v179m1 -367v262m1 -306v248m1 -182v344m1 -468v600m1 -486v457m1 -395v408m1 -327v494m1 -414v294m1 -423v534m1 -501v238m1 -298v402m1 -248v231m1 -192v289m1 -552v765m1 -657v557m1 -339v373m1 -99v39m1 -418v525m1 -393v340m1 -707v442m1 -167v236m1 -352v621m1 -654v389m1 -533v738m1 -809v435m1 -242v553m1 -787v567m1 -463v242m1 -345v336m1 -425v425m1 -433v665m1 -339v365m1 -492v312m1 -180v225m1 -256v522m1 -419v326m1 -501v557m1 -436v188m1 -312v385m1 -213v313m1 -253v182m1 -344v444m1 -313v239m1 -177v251m1 -282v443m1 -582v300m1 -114v309m1 -456v576m1 -728v666m1 -691v392m1 -481v300m1 -384v437m1 -440v516m1 -530v523m1 -372v277m1 -274v291m1 -380v355m1 -264v421m1 -425v348m1 -366v458m1 -413v602m1 -484v423m1 -500v363m1 -333v320m1 -212v194m1 -130v320m1 -522v290m1 -456v557m1 -504v331m1 -209v424m1 -408v388m1 -411v373m1 -495v491m1 -383v342m1 -406v318m1 -401v537m1 -822v650m1 -291v405m1 -405v296m1 -489v533m1 -481v651m1 -394v409m1 -520v364m1 -509v417m1 -320v110m1 -255v462m1 -355v374m1 -385v332m1 -418v525m1 -541v474m1 -555v612m1 -702v675m1 -397v336m1 -562v539m1 -482v400m1 -463v462m1 -381v425m1 -387v400m1 -135v96m1 -193v421m1 -476v372m1 -407v489m1 -535v437m1 -366v417m1 -540v622m1 -355v391m1 -663v578m1 -592v839m1 -605v567m1 -825v394m1 -314v419m1 -450v433m1 -481v372m1 -249v213m1 -295v377m1 -476v354m1 -464v507m1 -265v199m1 -433v479m1 -416v443m1 -268v263m1 -389v298m1 -206v419m1 -481v260m1 -471v567m1 -305v375m1 -442v321m1 -373v347m1 -451v462m1 -395v575m1 -702v482m1 -405v635m1 -744v676m1 -458v192m1 -394v604m1 -502v207m1 -462v669m1 -667v404m1 -354v549m1 -801v685m1 -427v474m1 -469v592m1 -347v265m1 -97v258m1 -416v573m1 -568v366m1 -313v337m1 -487v476m1 -367v604m1 -402v249m1 -426v378m1 -390v102m1 -188v171m1 -374v717m1 -765v617m1 -438v362m1 -211v374m1 -404v446m1 -361v366m1 -499v319m1 -269v614m1 -666v413m1 -327v171m1 -235v253m1 -301v337m1 -312v506m1 -531v263m1 -288v368m1 -313v395m1 -427v369m1 -188v282m1 -387v348m1 -549v332m1 -423v518m1 -499v613m1 -360v224m1 -214v531m1 -664v611m1 -390v507m1 -629v506m1 -419v483m1 -411v370m1 -331v529m1 -605v401m1 -444v522m1 -450v502m1 -593v463m1 -555v444m1 -360v250m1 -238v272m1 -218v542m1 -779v482m1 -345v167m1 -238v293m1 -158v330m1 -272v372m1 -375v275m1 -208v149m1 -270v309m1 -164v223m1 -578v617m1 -440v451m1 -515v547m1 -603v461m1 -389v412m1 -505v616m1 -406v223m1 -508v338m1 -115v656m1 -724v513m1 -415v479m1 -543v400m1 -434v510m1 -681v520m1 -423v448m1 -369v371m1 -512v451m1 -541v361m1 -129v545m1 -687v659m1 -779v697m1 -462v420m1 -388v471m1 -239v365m1 -448v433m1 -449v352m1 -432v338m1 -439v277m1 -447v884m1 -549v198m1 -409v323m1 -232v647m1 -578v564m1 -353v326m1 -512v452m1 -497v665m1 -769v521m1 -355v302m1 -202v178m1 -432v321m1 -146v212m1 -149v353m1 -397v572m1 -559v362m1 -543v459m1 -338v310m1 -208v287m1 -485v375m1 -367v449m1 -434v418m1 -371v311m1 -351v249m1 -191v242m1 -486v456m1 -315v232m1 -544v536m1 -250v517m1 -509v388m1 -570v493m1 -97v323m1 -501v518m1 -448v509m1 -342v314m1 -341v274m1 -276v569m1 -846v662m1 -281v378m1 -425v319m1 -319v412m1 -305v294m1 -515v579m1 -688v529m1 -707v757m1 -468v467m1 -442v310m1 -576v646m1 -400v589m1 -570v512m1 -544v371m1 -405v336m1 -489v637m1 -675v408m1 -417v335m1 -308v273m1 -362v620m1 -569v270m1 -458v731m1 -555v552m1 -563v601m1 -397v295m1 -427v354m1 -488v745m1 -464v245m1 -491v513m1 -476v498m1 -256v391m1 -612v547m1 -490v487m1 -361v588m1 -742v507m1 -323v333m1 -397v358m1 -373v340m1 -365v546m1 -289v280m1 -504v390m1 -242v104m1 -153v353m1 -486v254m1 -166v234m1 -313v608m1 -484v334m1 -540v469m1 -220v358m1 -451v523m1 -337v253m1 -228v281m1 -432v505m1 -507v463m1 -407v220m1 -423v379m1 -344v365m1 -176v231m1 -162v359m1 -462v278m1 -516v615m1 -620v484m1 -427v433m1 -287v423m1 -490v569m1 -551v373m1 -505v415m1 -373v498m1 -684v803m1 -661v488m1 -438v338m1 -419v769m1 -460v298m1 -546v437m1 -368v336m1 -402v345m1 -391v608m1 -594v550m1 -544v214m1 -147v300m1 -417v437m1 -304v341m1 -430v426m1 -525v504m1 -536v496m1 -186v201m1 -206v494m1 -397v234m1 -263v263m1 -315v417m1 -727v648m1 -581v577m1 -623v566m1 -500v543m1 -559v570m1 -390v332m1 -420v401m1 -371v352m1 -265v413m1 -398v451m1 -573v563m1 -439v437m1 -401v403m1 -339v228m1 -242v337m1 -471v799m1 -784v378m1 -369v324m1 -404v361m1 -266v378m1 -337v465m1 -607v376m1 -307v240m1 -244v281m1 -285v489m1 -618v450m1 -338v285m1 -207v351m1 -463v427m1 -156v217m1 -362v241m1 -426v557m1 -427v536m1 -480v433m1 -596v368m1 -404v296m1 -375v481m1 -339v438m1 -717v406m1 -177v346m1 -315v341m1 -215v459m1 -568v518m1 -671v622m1 -327v267m1 -697v452m1 -269v463m1 -440v271m1 -196v364m1 -325v327m1 -360v396m1 -412v418m1 -457v482m1 -581v401m1 -421v364m1 -426v513m1 -234v228m1 -408v535m1 -302v438m1 -434v525m1 -410v277m1 -257v237m1 -461v265m1 -761v890m1 -539v424m1 -160v249m1 -146v453m1 -741v607m1 -485v524m1 -442v361m1 -409v558m1 -539v332m1 -591v596m1 -646v821m1 -577v272m1 -191v225m1 -236v582m1 -596v252m1 -638v586m1 -210v334m1 -585v499m1 -481v505m1 -479v465m1 -441v422m1 -198v328m1 -365v390m1 -410v564m1 -735v334m1 -143v204m1 -424v474m1 -359v351m1 -371v527m1 -445v248m1 -417v418m1 -421v645m1 -577v365m1 -286v423m1 -345v460m1 -408v421m1 -617v624m1 -318v131m1 -336v399m1 -367v350m1 -223v249m1 -370v280m1 -195v486m1 -544v218m1 -460v461m1 -509v561m1 -436v171m1 -446v640m1 -277v167m1 -349v502m1 -419v625m1 -731v605m1 -398v560m1 -518v354m1 -605v508m1 -402v448m1 -681v604m1 -378v171m1 -94v305m1 -193v514m1 -614v293m1 -307v491m1 -654v493m1 -466v261m1 -236v455m1 -580v253m1 -171v367m1 -321v333m1 -337v294m1 -382v448m1 -691v659m1 -324v334m1 -333v368m1 -730v633m1 -320v343m1 -256v192m1 -104v200m1 -315v388m1 -311v82m1 -243v449m1 -358v409m1 -341v557m1 -630v292m1 -350v677m1 -535v337m1 -186v225m1 -296v442m1 -651v477m1 -320v419m1 -619v423m1 -264v198m1 -199v445m1 -595v687m1 -542v343m1 -145v375m1 -532v563m1 -361v254m1 -358v396m1 -608v652m1 -494v502m1 -523v241m1 -263v254m1 -208v455m1 -562v528m1 -547v509m1 -525v456m1 -393v410m1 -536v359m1 -297v306m1 -273v404m1 -500v306m1 -138v172m1 -226v383m1 -597v606m1 -715v499m1 -269v407m1 -442v423m1 -552v603m1 -623v448m1 -31v372m1 -557v404m1 -428v406m1 -518v533m1 -467v702m1 -771v547m1 -309v464m1 -272v153m1 -282v406m1 -645v600m1 -433v466m1 -445v433m1 -591v749m1 -466v279m1 -537v660m1 -677v768m1 -528v410m1 -325v225m1 -556v531m1 -416v446m1 -237v266m1 -360v349m1 -523v523m1 -469v447m1 -240v174m1 -134v312m1 -422v757m1 -921v702m1 -459v237m1 -265v453m1 -574v361m1 -362v390m1 -380v243m1 -274v538m1 -357v250m1 -359v675m1 -774v252m1 -156v395m1 -601v591m1 -747v777m1 -327v306m1 -353v412m1 -243v271m1 -471v415m1 -447v206m1 -245v407m1 -355v412m1 -674v383m1 -194v273m1 -470v390m1 -503v435m1 -294v429m1 -281v265m1 -66v366m1 -393v264m1 -390v221m1 -291v561m1 -347v393m1 -422v491m1 -852v627m1 -591v765m1 -354v276m1 -504v643m1 -602v582m1 -442v572m1 -481v399m1 -426v214m1 -373v479m1 -462v579m1 -633v331m1 -386v648m1 -387v107m1 -448v480m1 -579v597m1 -491v372m1 -525v510m1 -241v225m1 -359v594m1 -521v424m1 -635v501m1 -249v346m1 -404v248m1 -290v343m1 -365v440m1 -371v427m1 -328v277m1 -309v352m1 -381v385m1 -249v417m1 -640v522m1 -391v443m1 -323v382m1 -396v273m1 -280v396m1 -658v660m1 -578v361m1 -347v369m1 -284v445m1 -321v229m1 -402v459m1 -822v715m1 -530v384m1 -313v375m1 -316v490m1 -457v334m1 -369v318m1 -511v452m1 -506v643m1 -361v677m1 -924v547m1 -395v517m1 -434v427m1 -446v211m1 -252v161m1 -378v738m1 -501v306m1 -450v370m1 -334v533m1 -499v406m1 -716v833m1 -474v419m1 -413v314m1 -252v296m1 -300v658m1 -571v287m1 -376v525m1 -763v469m1 -456v473m1 -383v416m1 -417v424m1 -466v197m1 0v500m1 -753v563m1 -257v338m1 -580v487m1 -377v408m1 -498v481m1 -645v636m1 -382v469m1 -518v339m1 -343v552m1 -532v592m1 -581v639m1 -354v232m1 -371v375m1 -361v549m1 -435v144m1 -238v564m1 -544v421m1 -551v494m1 -371v241m1 -376v378m1 -255v499m1 -431v436m1 -351v416m1 -399v501m1 -548v455m1 -523v543m1 -580v254m1 -337v481m1 -523v475m1 -450v422m1 -513v538m1 -585v340m1 -319v295m1 -293v351m1 -409v432m1 -438v347m1 -286v348m1 -505v733m1 -872v888m1 -668v365m1 -298v439m1 -287v213m1 -235v548m1 -541v268m1 -527v516m1 -489v514m1 -478v468m1 -491v341m1 -465v392m1 -123v351m1 -564v520m1 -492v409m1 -250v465m1 -481v334m1 -515v498m1 -345v257m1 -340v377m1 -620v698m1 -367v283m1 -337v607m1 -583v544m1 -535v519m1 -416v299m1 -279v434m1 -355v242m1 -548v547m1 -661v645m1 -262v261m1 -380v592m1 -490v483m1 -677v591m1 -178v415m1 -727v707m1 -506v439m1 -609v484m1 -499v475m1 -383v351m1 -402v521m1 -493v504m1 -467v383m1 -445v565m1 -486v355m1 -294v389m1 -481v231m1 -408v555m1 -405v516m1 -238v283m1 -572v490m1 -511v464m1 -486v482m1 -439v324m1 -391v561m1 -519v278m1 -236v355m1 -333v251m1 -299v319m1 -377v303m1 -191v335m1 -419v509m1 -604v519m1 -220v177m1 -303v363m1 -206v240m1 -343v286m1 -291v527m1 -495v316m1 -442v218m1 -397v446m1 -341v420m1 -640v485m1 -521v700m1 -511v496m1 -308v524m1 -619v278m1 -253v566m1 -570v476m1 -222v104m1 -289v347m1 -447v381m1 -239v427m1 -328v244m1 -408v255m1 -328v626m1 -480v299m1 -397v483m1 -694v718m1 -545v305m1 -345v535m1 -403v402m1 -250v305m1 -646v555m1 -310v175m1 -196v523m1 -670v549m1 -456v455m1 -473v473m1 -484v263m1 -240v428m1 -425v387m1 -496v468m1 -305v536m1 -434v549m1 -620v468m1 -364v476m1 -523v432m1 -876v495m1 -255v446m1 -420v540m1 -637v430m1 -281v314m1 -373v549m1 -433v336m1 -347v477m1 -551v352m1 -576v348m1 -263v352m1 -275v454m1 -302v496m1 -614v383m1 -208v382m1 -460v382m1 -449v516m1 -380v207m1 -50v316m1 -422v420m1 -501v369m1 -204v367m1 -557v503m1 -459v405m1 -330v545m1 -636v645m1 -666v330m1 -516v580m1 -515v487m1 -460v445m1 -233v291m1 -459v430m1 -223v374m1 -596v572m1 -271v160m1 0v599m1 -968v474m1 -133v293m1 -474v569m1 -656v382m1 -441v503m1 -636v586m1 -441v306m1 -160v321m1 -329v455m1 -393v356m1 -296v331m1 -441v474m1 -231v480m1 -459v531m1 -621v507m1 -583v397m1 -349v243m1 -315v391m1 -539v449m1 -318v211m1 -214v513m1 -461v258m1 -393v446m1 -352v339m1 -644v734m1 -296v304m1 -31v266m1 -589v581m1 -316v211m1 -124v330m1 -236v285m1 -500v447m1 -254v242m1 -494v361m1 -458v686m1 -505v395m1 -541v634m1 -532v454m1 -394v468m1 -523v536m1 -578v255m1 -424v595m1 -599v536" stroke="#0000ff" stroke-width="1.000" fill="none" vector-effect="non-scaling-stroke"/>
<path transform="translate(774.8,0) scale(0.50018,0.1)" d="M0 1094v481m1 -397v427m1 -568v522m1 -413v554m1 -619v640m1 -811v505m1 -548v468m1 -422v709m1 -799v748m1 -486v590m1 -683v465m1 -303v217m1 -503v632m1 -397v353m1 -696v448m1 -332v393m1 -378v337m1 -692v1074m1 -787v331m1 -290v516m1 -380v666m1 -570v571m1 -448v211m1 -409v809m1 -758v343m1 -257v316m1 -515v445m1 -500v604m1 -454v315m1 -543v599m1 -315v636m1 -662v288m1 -608v540m1 -357v427m1 -401v264m1 -229v620m1 -721v800m1 -667v365m1 -321v389m1 -483v472m1 -565v409m1 -441v687m1 -669v271m1 -279v415m1 -542v732m1 -636v423m1 -423v663m1 -634v521m1 -296v318m1 -341v627m1 -416v412m1 -645v396m1 -121v346m1 -354v625m1 -531v522m1 -647v454m1 -505v420m1 -311v546m1 -742v964m1 -854v466m1 -582v654m1 -823v581m1 -292v408m1 -426v404m1 -739v637m1 -569v571m1 -288v212m1 -344v393m1 -279v342m1 -531v571m1 -373v613m1 -756v704m1 -529v142m1 -288v462m1 -553v471m1 -280v303m1 -493v802m1 -694v616m1 -573v442m1 -439v212m1 -406v575m1 -519v538m1 -642v706m1 -610v475m1 -583v606m1 -542v478m1 -306v357m1 -667v806m1 -620v664m1 -564v442m1 -182v398m1 -322v252m1 -247v141m1 -332v582m1 -599v585m1 -460v459m1 -440v197m1 -379v468m1 -595v512m1 -112v294m1 -678v578m1 -644v504m1 -308v321m1 -301v353m1 -505v784m1 -528v404m1 -264v426m1 -578v435m1 -232v483m1 -621v797m1 -871v548m1 -392v110m1 -385v553m1 -648v498m1 -306v469m1 -739v602m1 -384v392m1 -315v365m1 -526v532m1 -496v385m1 -352v430m1 -516v427m1 -319v596m1 -519v410m1 -504v477m1 -358v609m1 -690v341m1 -500v591m1 -434v279m1 -449v523m1 -653v736m1 -563v524m1 -290v365m1 -498v794m1 -770v482m1 -346v291m1 -368v414m1 -627v544m1 -307v248m1 -286v483m1 -577v535m1 -502v448m1 -276v464m1 -389v537m1 -759v496m1 -603v734m1 -772v654m1 -680v578m1 -445v599m1 -702v678m1 -465v388m1 -344v392m1 -745v900m1 -663v463m1 -635v633m1 -414v641m1 -696v408m1 -627v901m1 -707v267m1 -575v849m1 -374v247m1 -503v372m1 -463v577m1 -401v526m1 -328v305m1 -475v515m1 -451v535m1 -472v754m1 -558v315m1 -282v177m1 -556v612m1 -324v518m1 -606v307m1 -407v541m1 -400v319m1 -449v480m1 -767v626m1 -427v525m1 -534v446m1 -354v412m1 -431v318m1 -124v267m1 -457v209m1 -340v479m1 -337v576m1 -616v422m1 -495v492m1 -612v489m1 -697v813m1 -492v405m1 -381v342m1 -495v503m1 -396v478m1 -610v756m1 -900v851m1 -554v754m1 -581v360m1 -532v630m1 -707v545m1 -310v586m1 -678v670m1 -506v462m1 -765v809m1 -574v666m1 -424v374m1 -560v655m1 -657v609m1 -615v412m1 -408v474m1 -328v222m1 -407v504m1 -333v480m1 -864v678m1 -471v315m1 -168v297m1 -592v578m1 -200v211m1 -313v416m1 -455v394m1 -335v581m1 -319v270m1 -766v573m1 -432v504m1 -660v518m1 -573v818m1 -527v358m1 -540v223m1 -427v563m1 -507v393m1 -159v296m1 -401v341m1 -274v293m1 -95v529m1 -731v491m1 -374v630m1 -500v466m1 -317v271m1 -243v397m1 -567v476m1 -422v339m1 -501v609m1 -612v346m1 -391v396m1 -565v619m1 -535v390m1 -338v238m1 -320v211m1 -323v508m1 -500v535m1 -463v340m1 -365v260m1 -97v347m1 -403v356m1 -59v354m1 -426v353m1 -471v474m1 -450v511m1 -597v804m1 -639v386m1 -292v489m1 -847v805m1 -547v441m1 -430v528m1 -487v569m1 -655v552m1 -371v241m1 -279v431m1 -616v615m1 -528v330m1 -379v282m1 -316v293m1 -258v492m1 -687v633m1 -839v807m1 -751v520m1 -532v455m1 -662v709m1 -364v225m1 -346v670m1 -407v337m1 -398v320m1 -153v410m1 -541v296m1 -250v462m1 -558v404m1 -430v423m1 -410v461m1 -283v304m1 -445v454m1 -614v483m1 -235v256m1 -293v522m1 -562v592m1 -490v289m1 -573v568m1 -496v577m1 -409v228m1 -519v556m1 -453v532m1 -435v636m1 -582v383m1 -448v474m1 -279v289m1 -342v280m1 -230v502m1 -517v465m1 -656v468m1 -585v520m1 -385v498m1 -456v289m1 -384v585m1 -326v148m1 -468v594m1 -379v391m1 -404v504m1 -521v362m1 -303v363m1 -411v413m1 -505v353m1 -297v664m1 -818v416m1 -343v512m1 -467v489m1 -412v322m1 -454v456m1 -652v874m1 -515v196m1 -260v231m1 -481v542m1 -539v635m1 -324v228m1 -447v576m1 -416v218m1 -433v522m1 -693v485m1 -667v545m1 -518v788m1 -614v688m1 -660v591m1 -667v491m1 -395v268m1 0v166m1 -372v679m1 -488v312m1 -308v798m1 -714v398m1 -843v763m1 -485v364m1 -425v345m1 -326v497m1 -657v651m1 -694v469m1 -699v860m1 -653v890m1 -722v467m1 -344v209m1 -362v358m1 -466v444m1 -278v583m1 -716v315m1 -364v296m1 -96v446m1 -856v429m1 -77v387m1 -600v761m1 -783v695m1 -379v265m1 -493v559m1 -531v749m1 -616v457m1 -294v448m1 -597v544m1 -407v560m1 -709v584m1 -315v485m1 -533v486m1 -805v526m1 -234v488m1 -640v461m1 -634v455m1 -532v574m1 -415v411m1 -396v669m1 -435v395m1 -526v496m1 -467v571m1 -421v275m1 -582v452m1 -362v272m1 -185v529m1 -428v364m1 -421v341m1 -480v682m1 -464v254m1 -316v406m1 -508v469m1 -437v568m1 -631v725m1 -733v690m1 -890v902m1 -718v606m1 -759v658m1 -494v657m1 -890v473m1 -537v548m1 -345v608m1 -760v326m1 -303v640m1 -680v314m1 -188v523m1 -98v245m1 -430v494m1 -523v570m1 -688v634m1 -649v522m1 -548v300m1 -386v575m1 -486v354m1 -303v433m1 -574v501m1 -179v273m1 -441v297m1 -372v491m1 -343v311m1 -269v245m1 -488v687m1 -519v519m1 -558v474m1 -489v516m1 -545v523m1 -448v459m1 -380v470m1 -613v683m1 -784v589m1 -546v349m1 -350v507m1 -286v186m1 -212v307m1 -304v313m1 -274v338m1 -510v498m1 -449v522m1 -634v782m1 -728v539m1 -398v310m1 -525v640m1 -418v493m1 -688v451m1 -436v471m1 -511v908m1 -905v475m1 -691v576m1 -633v655m1 -589v647m1 -721v525m1 -233v526m1 -856v608m1 -547v606m1 -335v326m1 -265v401m1 -367v356m1 -477v597m1 -542v725m1 -597v482m1 -474v337m1 -374v699m1 -699v510m1 -540v611m1 -369v496m1 -589v461m1 -825v738m1 -350v378m1 -683v959m1 -828v159m1 -162v154m1 -286v594m1 -555v424m1 -505v403m1 -260v591m1 -532v376m1 -465v527m1 -523v793m1 -880v733m1 -859v746m1 -421v614m1 -514v443m1 -338v449m1 -502v632m1 -809v442m1 -331v419m1 -627v520m1 -527v514m1 -725v541m1 -339v359m1 -372v576m1 -714v686m1 -411v316m1 -349v374m1 -308v673m1 -636v293m1 -759v982m1 -880v717m1 -620v515m1 -387v253m1 -375v616m1 -497v315m1 -477v552m1 -502v594m1 -622v735m1 -606v303m1 -262v145m1 -370v748m1 -782v395m1 -141v232m1 -611v671m1 -707v535m1 -318v516m1 -632v846m1 -821v612m1 -348v390m1 -389v561m1 -329v343m1 -501v492m1 -362v281m1 -554v775m1 -814v463m1 -354v333m1 -256v720m1 -613v424m1 -414v385m1 -306v355m1 -691v694m1 -539v392m1 -411v525m1 -461v272m1 -242v184m1 -480v630m1 -546v732m1 -619v489m1 -876v705m1 -537v543m1 -837v919m1 -516v282m1 -244v314m1 -285v241m1 -380v431m1 -408v731m1 -717v355m1 -265v396m1 -420v435m1 -428v478m1 -525v787m1 -761v240m1 -366v594m1 -341v208m1 -418v445m1 -554v550m1 -256v545m1 -791v588m1 -454v469m1 -438v529m1 -561v506m1 -492v264m1 -266v371m1 -392v273m1 -297v344m1 -340v400m1 -165v553m1 -630v468m1 -477v252m1 -382v401m1 -408v415m1 -288v330m1 -345v438m1 -732v697m1 -447v765m1 -852v745m1 -757v726m1 -673v445m1 -480v685m1 -629v410m1 -272v179m1 -305v482m1 -351v481m1 -372v393m1 -568v638m1 -548v727m1 -616v385m1 -561v651m1 -554v417m1 -806v764m1 -551v373m1 -542v520m1 -373v461m1 -342v239m1 -128v564m1 -809v597m1 -294v299m1 -489v452m1 -614v623m1 -384v443m1 -457v460m1 -595v720m1 -769v480m1 -452v567m1 -678v442m1 -407v482m1 -615v669m1 -468v344m1 -532v403m1 -424v479m1 -559v615m1 -618v793m1 -564v299m1 -255v483m1 -474v328m1 -381v385m1 -400v271m1 -244v455m1 -233v222m1 -236v345m1 -329v331m1 -379v345m1 -414v600m1 -693v445m1 -435v419m1 -226v441m1 -520v513m1 -696v483m1 -188v210m1 -374v690m1 -869v746m1 -748v649m1 -514v524m1 -604v529m1 -359v241m1 -301v418m1 -343v550m1 -776v583m1 -558v481m1 -453v397m1 -417v392m1 -298v376m1 -529v446m1 -456v479m1 -274v419m1 -583v776m1 -663v407m1 -338v655m1 -664v762m1 -611v340m1 -395v418m1 -505v596m1 -921v668m1 -497v331m1 -532v509m1 -434v318m1 -189v408m1 -856v1082m1 -555v400m1 -323v456m1 -482v590m1 -727v581m1 -439v522m1 -435v303m1 -543v458m1 -555v479m1 -497v196m1 -131v479m1 -460v188m1 -5v426m1 -727v555m1 -353v240m1 -222v247m1 -309v404m1 -339v581m1 -655v519m1 -299v305m1 -515v445m1 -362v465m1 -392v377m1 -436v244m1 -312v314m1 -326v231m1 -273v395m1 -217v396m1 -692v755m1 -425v285m1 -700v1029m1 -886v350m1 -385v690m1 -465v397m1 -506v541m1 -276v301m1 -535v679m1 -893v757m1 -500v548m1 -559v256m1 -374v439m1 -411v791m1 -753v507m1 -312v383m1 -415v464m1 -491v622m1 -528v348m1 -334v470m1 -479v389m1 -435v380m1 -277v436m1 -801v863m1 -813v678m1 -515v500m1 -753v675m1 -593v456m1 -330v449m1 -725v861m1 -674v391m1 -461v614m1 -352v338m1 -487v590m1 -566v560m1 -654v454m1 -403v547m1 -491v652m1 -518v404m1 -561v426m1 -274v471m1 -638v614m1 -956v750m1 -657v654m1 -517v649m1 -866v828m1 -580v484m1 -259v139m1 -114v340m1 -490v559m1 -524v439m1 -481v486m1 -598v729m1 -451v173m1 -480v371m1 -239v382m1 -280v363m1 -406v559m1 -534v510m1 -345v436m1 -598v462m1 -330v349m1 -337v388m1 -402v262m1 -112v219m1 -218v286m1 -510v512m1 -583v416m1 -422v425m1 -433v155m1 -119v488m1 -259v256m1 -728v655m1 -340v499m1 -532v425m1 -712v659m1 -489v659m1 -568v379m1 -623v475m1 -553v488m1 -422v673m1 -573v535m1 -652v408m1 -512v577m1 -240v359m1 -369v618m1 -579v283m1 0v281m1 -644v565m1 -412v482m1 -260v240m1 -410v363m1 -752v772m1 -570v357m1 -355v538m1 -606v487m1 -484v359m1 -284v495m1 -658v534m1 -274v568m1 -649v244m1 -235v738m1 -732v553m1 -564v381m1 -398v851m1 -714v440m1 -756v292m1 -110v317m1 -505v506m1 -711v827m1 -571v390m1 -637v534m1 -330v540m1 -720v559m1 -332v537m1 -279v416m1 -641v329m1 -351v689m1 -569v470m1 -272v296m1 -693v539m1 -515v787m1 -839v850m1 -600v568m1 -463v419m1 -388v525m1 -664v564m1 -711v332m1 -177v197m1 -284v194m1 -226v444m1 -413v394m1 -469v298m1 -161v274m1 -515v470m1 -411v367m1 -314v465m1 -399v698m1 -659v413m1 -249v456m1 -463v518m1 -690v365m1 -599v832m1 -906v664m1 -474v732m1 -698v399m1 -198v234m1 -354v854m1 -782v406m1 -544v927m1 -967v601m1 -442v535m1 -668v644m1 -642v594m1 -453v406m1 -356v474m1 -551v352m1 -45v199m1 -451v273m1 -353v508m1 -296v363m1 -544v378m1 -577v606m1 -365v533m1 -791v639m1 -431v737m1 -876v867m1 -723v559m1 -719v348m1 -346v678m1 -633v307m1 -328v465m1 -376v338m1 -529v569m1 -695v863m1 -585v308m1 -320v603m1 -638v477m1 -527v716m1 -607v322m1 -540v513m1 -510v622m1 -476v559m1 -481v563m1 -604v682m1 -776v779m1 -535v425m1 -428v599m1 -594v265m1 -687v610m1 -467v927m1 -782v851m1 -926v437m1 -420v421m1 -284v210m1 -239v352m1 -334v411m1 -506v889m1 -770v420m1 -435v562m1 -610v375m1 -279v370m1 -367v390m1 -392v456m1 -602v597m1 -752v636m1 -320v322m1 -553v729m1 -501v444m1 -357v373m1 -658v582m1 -539v533m1 -518v281m1 -205v509m1 -683v594m1 -823v669m1 -500v710m1 -870v929m1 -657v272m1 -374v489m1 -448v586m1 -352v521m1 -617v537m1 -276v492m1 -609v530m1 -404v525m1 -751v499m1 -492v580m1 -605v312m1 -159v252m1 -277v336m1 -716v599m1 -462v612m1 -615v549m1 -731v357m1 -379v478m1 -339v456m1 -433v376m1 -224v765m1 -767v381m1 -204v364m1 -734v905m1 -873v743m1 -571v429m1 -370v514m1 -468v172m1 -224v362m1 -646v620m1 -326v403m1 -651v509m1 -543v741m1 -597v426m1 -693v724m1 -355v535m1 -703v511m1 -537v456m1 -544v512m1 -383v486m1 -425v487m1 -458v391m1 -144v459m1 -418v415m1 -710v401m1 -488v477m1 -199v406m1 -531v444m1 -352v242m1 -384v348m1 -453v723m1 -659v410m1 -484v747m1 -666v448m1 -444v323m1 -415v631m1 -527v710m1 -651v422m1 -360v693m1 -817v585m1 -438v700m1 -445v172m1 -567v937m1 -605v396m1 -482v514m1 -604v699m1 -597v511m1 -474v455m1 -606v497m1 -460v387m1 -528v383m1 -290v508m1 -493v191m1 -304v494m1 -667v886m1 -833v516m1 -243v420m1 -493v566m1 -530v344m1 -424v451m1 -687v966m1 -399v264m1 -612v703m1 -523v352m1 -576v275m1 -202v169m1 -387v434m1 -450v517m1 -377v252m1 -185v209m1 -123v417m1 -637v411m1 -248v515m1 -869v367m1 -440v817m1 -541v323m1 -434v438m1 -502v456m1 -205v319m1 -262v381m1 -380v241m1 -360v367m1 -230v467m1 -678v401m1 -182v137m1 -370v384m1 -462v436m1 -325v740m1 -617v537m1 -808v692m1 -562v614m1 -378v442m1 -824v950m1 -463v296m1 -493v423m1 -372v322m1 -325v487m1 -438v560m1 -698v382m1 -497v507m1 -311v384m1 -357v646m1 -585v351m1 -751v556m1 -145v508m1 -427v528m1 -509v392m1 -618v652m1 -305v237m1 -552v868m1 -681v595m1 -556v623m1 -477v381m1 -453v528m1 -1052v832m1 -518v283m1 -412v396m1 -389v364m1 -228v336m1 -583v698m1 -638v454m1 -649v444m1 -410v411m1 -477v418m1 -416v665m1 -440v663m1 -738v501m1 -413v456m1 -463v582m1 -581v481m1 -506v402m1 -412v335m1 -350v540m1 -718v742m1 -497v581m1 -538v224m1 -196v218m1 -355v406m1 -533v644m1 -591v548m1 -592v396m1 -180v399m1 -432v352m1 -506v607m1 -487v479m1 -472v558m1 -701v628m1 -455v333m1 -506v644m1 -281v268m1 -638v341m1 -258v687m1 -522v237m1 -423v610m1 -364v272m1 -137v384m1 -543v561m1 -647v519m1 -556v467m1 -664v575m1 -694v799m1 -636v724m1 -563v376m1 -306v225m1 -301v316m1 -521v516m1 -673v533m1 -496v801m1 -551v361m1 -438v328m1 -506v419m1 -533v561m1 -291v570" stroke="#008000" stroke-width="1.000" fill="none" vector-effect="non-scaling-stroke"/>
</g></svg>
<path d="M820.2 299.6V290.1M866 299.6V282.6M911.7 299.6V290.1M957.4 299.6V282.6M1003.1 299.6V290.1M1048.8 299.6V282.6M1094.6 299.6V290.1M1140.3 299.6V282.6M1186 299.6V290.1M1231.8 299.6V282.6M1277.5 299.6V290.1M774.5 276.8H784M774.5 253.9H791.5M774.5 231.1H784M774.5 208.2H791.5M774.5 185.3H784M774.5 162.5H791.5M774.5 139.6H784M774.5 116.8H791.5M774.5 93.9H784M774.5 71.1H791.5M774.5 48.2H784" stroke="#3a3a3a" stroke-width="1.4" fill="none"/>
<rect x="774.5" y="25.4" width="548.7" height="274.2" fill="none" stroke="#262626" stroke-width="2"/>
<text x="775.5" y="330.8" text-anchor="middle">0</text>
<text x="867" y="330.8" text-anchor="middle">50</text>
<text x="958.4" y="330.8" text-anchor="middle">100</text>
<text x="1049.8" y="330.8" text-anchor="middle">150</text>
<text x="1141.3" y="330.8" text-anchor="middle">200</text>
<text x="1232.8" y="330.8" text-anchor="middle">250</text>
<text x="1324.2" y="330.8" text-anchor="middle">300</text>
<text x="768" y="307.8" text-anchor="end">130</text>
<text x="768" y="262.1" text-anchor="end">135</text>
<text x="768" y="216.4" text-anchor="end">140</text>
<text x="768" y="170.7" text-anchor="end">145</text>
<text x="768" y="125" text-anchor="end">150</text>
<text x="768" y="79.3" text-anchor="end">155</text>
<text x="768" y="33.6" text-anchor="end">160</text>
<text x="1049.8" y="370.5" text-anchor="middle" font-size="28.5">Time (ns)</text>
<text transform="translate(709.5,161.8) rotate(-90)" text-anchor="middle" font-size="28.5">SASA (nm<tspan dy="-18" font-size="19">2</tspan><tspan dy="18">)</tspan></text>
<polyline points="81,666.9 263.9,643.6 446.9,416.5 629.8,666.9" stroke="#000000" stroke-width="1.7" fill="none"/>
<polyline points="81,666.9 263.9,608.8 446.9,450.4 629.8,666.9" stroke="#ff0000" stroke-width="1.15" fill="none"/>
<polyline points="81,666.9 263.9,643.7 446.9,416.5 629.8,666.9" stroke="#0000ff" stroke-width="1.25" fill="none"/>
<polyline points="81,666.9 263.9,652 446.9,407.8 629.8,666.9" stroke="#008000" stroke-width="1.15" fill="none"/>
<path d="M172.5 666.9V657.4M263.9 666.9V649.9M355.4 666.9V657.4M446.9 666.9V649.9M538.3 666.9V657.4M81 639.5H90.5M81 612.1H98M81 584.7H90.5M81 557.3H98M81 529.9H90.5M81 502.5H98M81 475.1H90.5M81 447.7H98M81 420.3H90.5" stroke="#3a3a3a" stroke-width="1.4" fill="none"/>
<rect x="81" y="392.9" width="548.8" height="274" fill="none" stroke="#262626" stroke-width="2"/>
<text x="81.8" y="698.2" text-anchor="middle">1.8</text>
<text x="264.7" y="698.2" text-anchor="middle">1.9</text>
<text x="447.7" y="698.2" text-anchor="middle">2</text>
<text x="630.6" y="698.2" text-anchor="middle">2.1</text>
<text x="73" y="676.1" text-anchor="end">0</text>
<text x="73" y="621.3" text-anchor="end">2</text>
<text x="73" y="566.5" text-anchor="end">4</text>
<text x="73" y="511.7" text-anchor="end">6</text>
<text x="73" y="456.9" text-anchor="end">8</text>
<text x="73" y="402.1" text-anchor="end">10</text>
<text x="355.4" y="738.5" text-anchor="middle" font-size="28.5">Rg (nm)</text>
<text transform="translate(30,529.3) rotate(-90)" text-anchor="middle" font-size="28.5">PDF</text>
<polyline points="776.9,665.9 778.7,665.9 780.6,665.9 782.4,665.9 784.2,665.9 786,665.9 787.9,665.9 789.7,665.9 791.5,665.9 793.3,665.9 795.2,665.9 797,665.9 798.8,665.9 800.7,665.9 802.5,665.9 804.3,665.9 806.1,665.9 808,665.9 809.8,665.9 811.6,665.9 813.5,665.9 815.3,665.9 817.1,665.9 818.9,665.9 820.8,665.9 822.6,665.9 824.4,665.9 826.2,665.9 828.1,665.9 829.9,665.9 831.7,665.9 833.6,665.9 835.4,665.9 837.2,665.9 839,665.9 840.9,665.9 842.7,665.9 844.5,665.9 846.4,665.9 848.2,665.9 850,665.9 851.8,665.9 853.7,665.9 855.5,665.9 857.3,665.9 859.1,665.9 861,665.4 862.8,663.9 864.6,665.2 866.5,664.9 868.3,664.3 870.1,664.3 871.9,663.8 873.8,663.6 875.6,663.3 877.4,664.9 879.2,663.3 881.1,665.6 882.9,663 884.7,664.9 886.6,663.1 888.4,662.1 890.2,663.2 892,662.3 893.9,664.6 895.7,663.3 897.5,660.9 899.4,663.4 901.2,660.5 903,663.4 904.8,662.5 906.7,662.7 908.5,660.8 910.3,659.8 912.1,662.1 914,660.5 915.8,657.3 917.6,660.2 919.5,660.7 921.3,658.1 923.1,658.4 924.9,658.3 926.8,659.4 928.6,652.9 930.4,654.4 932.3,651.7 934.1,652.6 935.9,645.6 937.7,645.3 939.6,643.2 941.4,644.4 943.2,641.3 945,638.6 946.9,636.7 948.7,637.1 950.5,636.7 952.4,636 954.2,635.7 956,634.8 957.8,628.9 959.7,629.1 961.5,633.1 963.3,624.9 965.1,618.5 967,621.1 968.8,624.7 970.6,616.1 972.5,610.3 974.3,609.9 976.1,609.7 977.9,597.2 979.8,593.3 981.6,598 983.4,589.9 985.3,587.5 987.1,581.3 988.9,573.5 990.7,571.9 992.6,570.6 994.4,569.3 996.2,564.6 998,554.4 999.9,541.3 1001.7,539.5 1003.5,534.4 1005.4,526.8 1007.2,522.2 1009,513.5 1010.8,519.2 1012.7,520.2 1014.5,505.7 1016.3,506.2 1018.2,483.2 1020,490.6 1021.8,486.4 1023.6,490.6 1025.5,472.9 1027.3,474.8 1029.1,458.2 1030.9,456.9 1032.8,466.1 1034.6,455.2 1036.4,476.7 1038.3,459.8 1040.1,443.8 1041.9,445.6 1043.7,448.6 1045.6,448.6 1047.4,457.8 1049.2,456.3 1051,443.5 1052.9,431.5 1054.7,461.7 1056.5,440.8 1058.4,441.8 1060.2,440.2 1062,455.5 1063.8,454.8 1065.7,453 1067.5,464.1 1069.3,469.2 1071.2,470.8 1073,469.3 1074.8,470.7 1076.6,478.2 1078.5,482.2 1080.3,492.1 1082.1,497 1083.9,489.3 1085.8,501.9 1087.6,506.9 1089.4,505.3 1091.3,508.7 1093.1,514 1094.9,524.9 1096.7,533.2 1098.6,536.8 1100.4,542.8 1102.2,541.3 1104.1,552.6 1105.9,555.7 1107.7,564.1 1109.5,561.7 1111.4,583.8 1113.2,576.3 1115,579.2 1116.8,592.5 1118.7,581.5 1120.5,595.7 1122.3,599.2 1124.2,606.3 1126,601.1 1127.8,606.7 1129.6,612.6 1131.5,612.2 1133.3,613.1 1135.1,613.9 1137,620.2 1138.8,626.9 1140.6,627.8 1142.4,635.9 1144.3,633 1146.1,630.6 1147.9,633.7 1149.7,637.7 1151.6,640.5 1153.4,637.3 1155.2,643 1157.1,643.3 1158.9,646.4 1160.7,650.5 1162.5,646.8 1164.4,654.2 1166.2,655.1 1168,654.5 1169.8,656 1171.7,656.5 1173.5,657.5 1175.3,655.4 1177.2,657.9 1179,658.2 1180.8,662.1 1182.6,661.5 1184.5,658.9 1186.3,663 1188.1,659.9 1190,663.6 1191.8,662.2 1193.6,664.2 1195.4,663.2 1197.3,665 1199.1,664.5 1200.9,662.5 1202.7,665.2 1204.6,662.5 1206.4,665.6 1208.2,665.9 1210.1,665.3 1211.9,665.9 1213.7,663.7 1215.5,664.8 1217.4,665.9 1219.2,665.9 1221,665.9 1222.9,665.9 1224.7,665.9 1226.5,665.9 1228.3,665.9 1230.2,665.9 1232,665.9 1233.8,665.9 1235.6,665.9 1237.5,665.9 1239.3,665.9 1241.1,665.9 1243,665.9 1244.8,665.9 1246.6,665.9 1248.4,665.9 1250.3,665.9 1252.1,665.9 1253.9,665.9 1255.7,665.9 1257.6,665.9 1259.4,665.9 1261.2,665.9 1263.1,665.9 1264.9,665.9 1266.7,665.9 1268.5,665.9 1270.4,665.9 1272.2,665.9 1274,665.9 1275.9,665.9 1277.7,665.9 1279.5,665.9 1281.3,665.9 1283.2,665.9 1285,665.9 1286.8,665.9 1288.6,665.9 1290.5,665.9 1292.3,665.9 1294.1,665.9 1296,665.9 1297.8,665.9 1299.6,665.9 1301.4,665.9 1303.3,665.9 1305.1,665.9 1306.9,665.9 1308.8,665.9 1310.6,665.9 1312.4,665.9 1314.2,665.9 1316.1,665.9 1317.9,665.9 1319.7,665.9 1321.5,665.9 1323.4,665.9 1325.2,665.9" stroke="#000000" stroke-width="1.05" fill="none"/>
<polyline points="776.9,665.9 778.7,665.9 780.6,665.9 782.4,665.9 784.2,665.9 786,665.9 787.9,665.9 789.7,665.9 791.5,665.9 793.3,665.9 795.2,665.9 797,665.9 798.8,665.9 800.7,665.9 802.5,665.9 804.3,665.9 806.1,665.9 808,665.9 809.8,665.9 811.6,665.9 813.5,665.9 815.3,665.9 817.1,665.9 818.9,665.9 820.8,665.9 822.6,665.9 824.4,665.9 826.2,665.9 828.1,665.9 829.9,665.9 831.7,665.9 833.6,665.9 835.4,665.9 837.2,665.9 839,665.9 840.9,665.9 842.7,665.9 844.5,665.9 846.4,665.9 848.2,665.9 850,665.9 851.8,665.9 853.7,665.9 855.5,665.9 857.3,665.9 859.1,665.9 861,665.9 862.8,665.9 864.6,665.9 866.5,665.5 868.3,664.5 870.1,663.6 871.9,664.1 873.8,662.6 875.6,665.3 877.4,661.6 879.2,664.9 881.1,662.1 882.9,664.7 884.7,662.7 886.6,662.7 888.4,661.7 890.2,660.9 892,661.8 893.9,661.1 895.7,660 897.5,662 899.4,660.6 901.2,661.6 903,658.2 904.8,653.7 906.7,655.8 908.5,658.2 910.3,657.4 912.1,653.6 914,655.9 915.8,657.6 917.6,655.9 919.5,655.3 921.3,654.5 923.1,649.9 924.9,650.2 926.8,652.7 928.6,649.3 930.4,649.5 932.3,648.4 934.1,647.8 935.9,637.7 937.7,641.7 939.6,637.4 941.4,634.5 943.2,635.9 945,630.6 946.9,627.9 948.7,626.2 950.5,616.6 952.4,620.2 954.2,619.2 956,613 957.8,605.7 959.7,605.8 961.5,608.8 963.3,607.5 965.1,605 967,601.1 968.8,593.6 970.6,588.6 972.5,599.8 974.3,586.5 976.1,588.5 977.9,576.6 979.8,571.9 981.6,576.6 983.4,571.2 985.3,570 987.1,559 988.9,565.9 990.7,559.5 992.6,553.3 994.4,538.8 996.2,528.4 998,538.7 999.9,542.9 1001.7,532.1 1003.5,534.8 1005.4,523.7 1007.2,530.4 1009,523 1010.8,517.8 1012.7,511.6 1014.5,512.5 1016.3,501.1 1018.2,505.7 1020,515.7 1021.8,495 1023.6,500.5 1025.5,500.5 1027.3,483.5 1029.1,498.5 1030.9,489.8 1032.8,494.5 1034.6,480.3 1036.4,492.7 1038.3,489.8 1040.1,502.4 1041.9,485.1 1043.7,503.8 1045.6,492.5 1047.4,493.2 1049.2,494.5 1051,492.9 1052.9,514.6 1054.7,506.7 1056.5,510.8 1058.4,511.5 1060.2,509.6 1062,518.3 1063.8,526.5 1065.7,524.4 1067.5,516.7 1069.3,535.5 1071.2,530 1073,538.4 1074.8,528 1076.6,546.2 1078.5,540.5 1080.3,541.1 1082.1,541.6 1083.9,530.6 1085.8,537.1 1087.6,553.5 1089.4,537.3 1091.3,557.6 1093.1,562.9 1094.9,562.3 1096.7,554.5 1098.6,554.2 1100.4,570.4 1102.2,557.5 1104.1,562.6 1105.9,558.5 1107.7,565.3 1109.5,559.4 1111.4,562 1113.2,571.8 1115,559 1116.8,566.4 1118.7,565 1120.5,563.9 1122.3,577 1124.2,574.7 1126,580.6 1127.8,583.6 1129.6,580.3 1131.5,582.5 1133.3,580.5 1135.1,582.9 1137,591.8 1138.8,597.9 1140.6,582.5 1142.4,589.6 1144.3,601.5 1146.1,607.1 1147.9,607.1 1149.7,606.4 1151.6,605.2 1153.4,608 1155.2,612.2 1157.1,616.8 1158.9,617.3 1160.7,620.9 1162.5,621.3 1164.4,623.7 1166.2,623.2 1168,633 1169.8,629.5 1171.7,631 1173.5,635.3 1175.3,633.9 1177.2,638.2 1179,638.7 1180.8,639.2 1182.6,640.8 1184.5,643.4 1186.3,640.6 1188.1,644.7 1190,646.2 1191.8,648.1 1193.6,651.8 1195.4,653.7 1197.3,651.4 1199.1,655.1 1200.9,658.9 1202.7,660.5 1204.6,656.6 1206.4,658.9 1208.2,658.3 1210.1,659.6 1211.9,659.9 1213.7,660 1215.5,662.2 1217.4,660.6 1219.2,659.5 1221,660.3 1222.9,664.3 1224.7,664 1226.5,664.2 1228.3,662.9 1230.2,661.6 1232,662.6 1233.8,665.7 1235.6,663.5 1237.5,662.8 1239.3,664.6 1241.1,661.8 1243,665.2 1244.8,663.2 1246.6,661.9 1248.4,665.9 1250.3,665.5 1252.1,664.6 1253.9,661.8 1255.7,665.9 1257.6,665 1259.4,665.4 1261.2,665.9 1263.1,665.9 1264.9,665.9 1266.7,665.9 1268.5,665.9 1270.4,665.9 1272.2,665.9 1274,665.9 1275.9,665.9 1277.7,665.9 1279.5,665.9 1281.3,665.9 1283.2,665.9 1285,665.9 1286.8,665.9 1288.6,665.9 1290.5,665.9 1292.3,665.9 1294.1,665.9 1296,665.9 1297.8,665.9 1299.6,665.9 1301.4,665.9 1303.3,665.9 1305.1,665.9 1306.9,665.9 1308.8,665.9 1310.6,665.9 1312.4,665.9 1314.2,665.9 1316.1,665.9 1317.9,665.9 1319.7,665.9 1321.5,665.9 1323.4,665.9 1325.2,665.9" stroke="#ff0000" stroke-width="1.05" fill="none"/>
<polyline points="776.9,665.9 778.7,665.9 780.6,665.9 782.4,665.9 784.2,665.9 786,665.9 787.9,665.9 789.7,665.9 791.5,665.9 793.3,665.9 795.2,665.9 797,665.9 798.8,665.9 800.7,665.9 802.5,665.9 804.3,665.9 806.1,665.9 808,665.9 809.8,665.9 811.6,665.9 813.5,665.9 815.3,665.9 817.1,665.9 818.9,665.9 820.8,665.9 822.6,665.9 824.4,665.9 826.2,665.9 828.1,665.9 829.9,665.9 831.7,665.9 833.6,665.9 835.4,665.9 837.2,665.9 839,665.9 840.9,665.9 842.7,665.9 844.5,665.9 846.4,665.9 848.2,665.9 850,665.9 851.8,665.9 853.7,665.9 855.5,665.9 857.3,665.9 859.1,665.9 861,665.9 862.8,665.9 864.6,665.9 866.5,665.9 868.3,665.9 870.1,664.5 871.9,665.9 873.8,664.5 875.6,665.9 877.4,665.9 879.2,665.9 881.1,665.4 882.9,665.9 884.7,664.4 886.6,664.1 888.4,664.3 890.2,665.7 892,663.3 893.9,665.6 895.7,663.8 897.5,664.9 899.4,664.7 901.2,664.8 903,664.5 904.8,662.8 906.7,662.1 908.5,661.7 910.3,662 912.1,662 914,661.8 915.8,659.5 917.6,662.3 919.5,662.2 921.3,660.7 923.1,663 924.9,660.3 926.8,659.5 928.6,660.6 930.4,659.4 932.3,656.6 934.1,657.7 935.9,656.7 937.7,654.3 939.6,657 941.4,657.5 943.2,654.8 945,653.3 946.9,657.4 948.7,651.8 950.5,653.3 952.4,653 954.2,653.3 956,651.1 957.8,647.6 959.7,647.5 961.5,645.5 963.3,647 965.1,640.3 967,639.3 968.8,641 970.6,646.6 972.5,637.2 974.3,627.3 976.1,633.9 977.9,635.2 979.8,624.6 981.6,630.4 983.4,624.9 985.3,622.1 987.1,628 988.9,620.5 990.7,614.6 992.6,618 994.4,611.7 996.2,611.4 998,603.9 999.9,596.7 1001.7,605 1003.5,597.4 1005.4,590.1 1007.2,590.5 1009,587.1 1010.8,580.6 1012.7,576 1014.5,573.8 1016.3,564.6 1018.2,557.9 1020,554.1 1021.8,550.4 1023.6,543.5 1025.5,553.9 1027.3,542.8 1029.1,536.9 1030.9,530.7 1032.8,539.2 1034.6,513.5 1036.4,526 1038.3,514.1 1040.1,506.3 1041.9,499.3 1043.7,506.2 1045.6,500.8 1047.4,490.3 1049.2,484.9 1051,479.1 1052.9,482.8 1054.7,484.8 1056.5,487.2 1058.4,463.5 1060.2,483.9 1062,467.5 1063.8,468.8 1065.7,463.6 1067.5,460.6 1069.3,456 1071.2,464.5 1073,459.5 1074.8,475.2 1076.6,458.9 1078.5,464.6 1080.3,457.9 1082.1,446.9 1083.9,455.2 1085.8,448.5 1087.6,459.3 1089.4,456.5 1091.3,464.5 1093.1,482.4 1094.9,471.7 1096.7,471.5 1098.6,472.1 1100.4,477.4 1102.2,482.9 1104.1,480.5 1105.9,488.1 1107.7,500.4 1109.5,497.4 1111.4,521.4 1113.2,515.6 1115,519.9 1116.8,515.9 1118.7,532 1120.5,542.2 1122.3,537 1124.2,532.9 1126,548.3 1127.8,552.2 1129.6,557.3 1131.5,560.5 1133.3,558.5 1135.1,559.7 1137,571.9 1138.8,579.1 1140.6,574.2 1142.4,586.8 1144.3,591.2 1146.1,597.2 1147.9,600.9 1149.7,602.5 1151.6,608.4 1153.4,609.3 1155.2,614.2 1157.1,616.1 1158.9,623 1160.7,625.8 1162.5,627.7 1164.4,631.6 1166.2,634.6 1168,634.4 1169.8,643.2 1171.7,647.6 1173.5,642.3 1175.3,646.3 1177.2,643.7 1179,648.4 1180.8,652.1 1182.6,645.5 1184.5,650.7 1186.3,653.7 1188.1,655.4 1190,653.8 1191.8,657.3 1193.6,656.4 1195.4,656 1197.3,661.3 1199.1,660.3 1200.9,659.6 1202.7,658.4 1204.6,660 1206.4,662.5 1208.2,660 1210.1,663 1211.9,663 1213.7,662.6 1215.5,664.9 1217.4,659.7 1219.2,662.4 1221,663.9 1222.9,665.1 1224.7,665.9 1226.5,664.3 1228.3,664.1 1230.2,665.5 1232,665.5 1233.8,664.8 1235.6,665.6 1237.5,665.9 1239.3,665 1241.1,665.5 1243,665.1 1244.8,665.9 1246.6,665.9 1248.4,665.9 1250.3,665.9 1252.1,665.9 1253.9,665.9 1255.7,665.9 1257.6,665.9 1259.4,665.9 1261.2,665.9 1263.1,665.9 1264.9,665.9 1266.7,665.9 1268.5,665.9 1270.4,665.9 1272.2,665.9 1274,665.9 1275.9,665.9 1277.7,665.9 1279.5,665.9 1281.3,665.9 1283.2,665.9 1285,665.9 1286.8,665.9 1288.6,665.9 1290.5,665.9 1292.3,665.9 1294.1,665.9 1296,665.9 1297.8,665.9 1299.6,665.9 1301.4,665.9 1303.3,665.9 1305.1,665.9 1306.9,665.9 1308.8,665.9 1310.6,665.9 1312.4,665.9 1314.2,665.9 1316.1,665.9 1317.9,665.9 1319.7,665.9 1321.5,665.9 1323.4,665.9 1325.2,665.9" stroke="#0000ff" stroke-width="1.05" fill="none"/>
<polyline points="776.9,665.9 778.7,665.9 780.6,665.9 782.4,665.9 784.2,665.9 786,665.9 787.9,665.9 789.7,665.9 791.5,665.9 793.3,665.9 795.2,665.9 797,665.9 798.8,665.9 800.7,665.9 802.5,665.9 804.3,665.9 806.1,665.9 808,665.9 809.8,665.9 811.6,665.9 813.5,665.9 815.3,665.9 817.1,665.9 818.9,665.9 820.8,665.9 822.6,665.9 824.4,665.9 826.2,665.9 828.1,665.9 829.9,665.9 831.7,665.9 833.6,665.9 835.4,665.9 837.2,665.9 839,665.9 840.9,665.9 842.7,665.9 844.5,665.9 846.4,665.9 848.2,665.9 850,665.9 851.8,665.9 853.7,665.9 855.5,665.9 857.3,665.9 859.1,665.9 861,665.9 862.8,664.2 864.6,665.9 866.5,664.9 868.3,665.9 870.1,663.8 871.9,664.6 873.8,662.9 875.6,665 877.4,665.9 879.2,665.8 881.1,665.9 882.9,662.8 884.7,665.3 886.6,665.3 888.4,663.4 890.2,663.6 892,663 893.9,664.1 895.7,665.9 897.5,664.8 899.4,665.7 901.2,660.5 903,660.7 904.8,662.3 906.7,660.6 908.5,660.2 910.3,660 912.1,659.8 914,659 915.8,660 917.6,663.4 919.5,664 921.3,656.6 923.1,657 924.9,661.9 926.8,656 928.6,657 930.4,655.2 932.3,658.4 934.1,649.9 935.9,650.6 937.7,647.3 939.6,645.3 941.4,643.5 943.2,641.3 945,643.5 946.9,642.4 948.7,643.5 950.5,639 952.4,639.9 954.2,641.3 956,632.8 957.8,632.5 959.7,641.1 961.5,636.6 963.3,628.9 965.1,630.1 967,618.5 968.8,619.3 970.6,615 972.5,610.6 974.3,606.1 976.1,609.6 977.9,603 979.8,601.6 981.6,596.4 983.4,594.5 985.3,587.7 987.1,588.7 988.9,590.4 990.7,584.5 992.6,587.3 994.4,576.6 996.2,566.7 998,573 999.9,573.9 1001.7,560.6 1003.5,557.8 1005.4,549.7 1007.2,547.7 1009,538.4 1010.8,539.5 1012.7,518.6 1014.5,524 1016.3,514 1018.2,506.9 1020,507.4 1021.8,498 1023.6,497.3 1025.5,493.4 1027.3,486.8 1029.1,477 1030.9,485.1 1032.8,478.9 1034.6,475 1036.4,470.7 1038.3,456 1040.1,462.9 1041.9,463.3 1043.7,458.5 1045.6,450.3 1047.4,462.6 1049.2,448.3 1051,472.7 1052.9,461.5 1054.7,443.7 1056.5,443.2 1058.4,453.7 1060.2,458.7 1062,449.8 1063.8,459.8 1065.7,446.2 1067.5,450.4 1069.3,455.5 1071.2,470 1073,459.9 1074.8,472.4 1076.6,476.2 1078.5,481.6 1080.3,483.7 1082.1,483.6 1083.9,485.5 1085.8,489.8 1087.6,477.1 1089.4,506.3 1091.3,500.7 1093.1,516.7 1094.9,518 1096.7,528.3 1098.6,517.9 1100.4,528.1 1102.2,533.3 1104.1,539.2 1105.9,537.7 1107.7,550.3 1109.5,549.8 1111.4,542.8 1113.2,561.8 1115,568.7 1116.8,575 1118.7,570.1 1120.5,578 1122.3,586 1124.2,590.2 1126,590.1 1127.8,598.5 1129.6,588.7 1131.5,602.4 1133.3,606 1135.1,609.3 1137,619.5 1138.8,621.3 1140.6,620.3 1142.4,622.1 1144.3,629 1146.1,621.8 1147.9,628.6 1149.7,628.6 1151.6,631.6 1153.4,638.2 1155.2,633.1 1157.1,641.8 1158.9,649.1 1160.7,651.9 1162.5,647.7 1164.4,647.2 1166.2,650.4 1168,648 1169.8,653.6 1171.7,653 1173.5,653.9 1175.3,658.4 1177.2,656.9 1179,657.7 1180.8,657.3 1182.6,657.9 1184.5,658.9 1186.3,662.2 1188.1,660.4 1190,660.5 1191.8,662.5 1193.6,661.9 1195.4,662.4 1197.3,662.2 1199.1,664 1200.9,663.8 1202.7,664.4 1204.6,664.8 1206.4,665.7 1208.2,665.6 1210.1,665.9 1211.9,665.7 1213.7,664.8 1215.5,665 1217.4,665.9 1219.2,665.9 1221,665.9 1222.9,665.9 1224.7,665.9 1226.5,665.9 1228.3,665.9 1230.2,665.9 1232,665.9 1233.8,665.9 1235.6,665.9 1237.5,665.9 1239.3,665.9 1241.1,665.9 1243,665.9 1244.8,665.9 1246.6,665.9 1248.4,665.9 1250.3,665.9 1252.1,665.9 1253.9,665.9 1255.7,665.9 1257.6,665.9 1259.4,665.9 1261.2,665.9 1263.1,665.9 1264.9,665.9 1266.7,665.9 1268.5,665.9 1270.4,665.9 1272.2,665.9 1274,665.9 1275.9,665.9 1277.7,665.9 1279.5,665.9 1281.3,665.9 1283.2,665.9 1285,665.9 1286.8,665.9 1288.6,665.9 1290.5,665.9 1292.3,665.9 1294.1,665.9 1296,665.9 1297.8,665.9 1299.6,665.9 1301.4,665.9 1303.3,665.9 1305.1,665.9 1306.9,665.9 1308.8,665.9 1310.6,665.9 1312.4,665.9 1314.2,665.9 1316.1,665.9 1317.9,665.9 1319.7,665.9 1321.5,665.9 1323.4,665.9 1325.2,665.9" stroke="#008000" stroke-width="1.05" fill="none"/>
<path d="M822.6 665.9V656.4M868.3 665.9V648.9M914 665.9V656.4M959.7 665.9V648.9M1005.4 665.9V656.4M1051 665.9V648.9M1096.7 665.9V656.4M1142.4 665.9V648.9M1188.1 665.9V656.4M1233.8 665.9V648.9M1279.5 665.9V656.4M776.9 631.6H786.4M776.9 597.4H793.9M776.9 563.1H786.4M776.9 528.9H793.9M776.9 494.6H786.4M776.9 460.4H793.9M776.9 426.1H786.4" stroke="#3a3a3a" stroke-width="1.4" fill="none"/>
<rect x="776.9" y="391.9" width="548.3" height="274" fill="none" stroke="#262626" stroke-width="2"/>
<text x="779.4" y="696.6" text-anchor="middle">130</text>
<text x="870.8" y="696.6" text-anchor="middle">135</text>
<text x="962.2" y="696.6" text-anchor="middle">140</text>
<text x="1053.5" y="696.6" text-anchor="middle">145</text>
<text x="1144.9" y="696.6" text-anchor="middle">150</text>
<text x="1236.3" y="696.6" text-anchor="middle">155</text>
<text x="1327.7" y="696.6" text-anchor="middle">160</text>
<text x="770.3" y="674.1" text-anchor="end">0</text>
<text x="770.3" y="605.6" text-anchor="end">0.05</text>
<text x="770.3" y="537.1" text-anchor="end">0.1</text>
<text x="770.3" y="468.6" text-anchor="end">0.15</text>
<text x="770.3" y="400.1" text-anchor="end">0.2</text>
<text x="1051" y="746" text-anchor="middle" font-size="28.5">SASA (nm<tspan dy="-16" font-size="19">2</tspan><tspan dy="16">)</tspan></text>
<text transform="translate(707.5,528.5) rotate(-90)" text-anchor="middle" font-size="28.5">PDF</text>
<rect x="1132.3" y="402.4" width="45" height="7.2" fill="#000000"/>
<text x="1187" y="410.3" font-size="17.4">ULK1</text>
<rect x="1132.3" y="426.9" width="45" height="7.2" fill="#ff0000"/>
<text x="1187" y="434.8" font-size="17.4">ULK1-Candidine</text>
<rect x="1132.3" y="450.8" width="45" height="7.2" fill="#0000ff"/>
<text x="1187" y="458.7" font-size="17.4">ULK1-Delavinone</text>
<rect x="1132.3" y="476" width="45" height="7.2" fill="#008000"/>
<text x="1187" y="483.9" font-size="17.4">ULK1-BL-918</text>
</g>
<text x="8.3" y="24.1" font-family="Liberation Sans" font-weight="bold" font-size="30.5">A</text>
<text x="689.8" y="26.8" font-family="Liberation Sans" font-weight="bold" font-size="29.7">B</text>
</svg>
</body></html>
